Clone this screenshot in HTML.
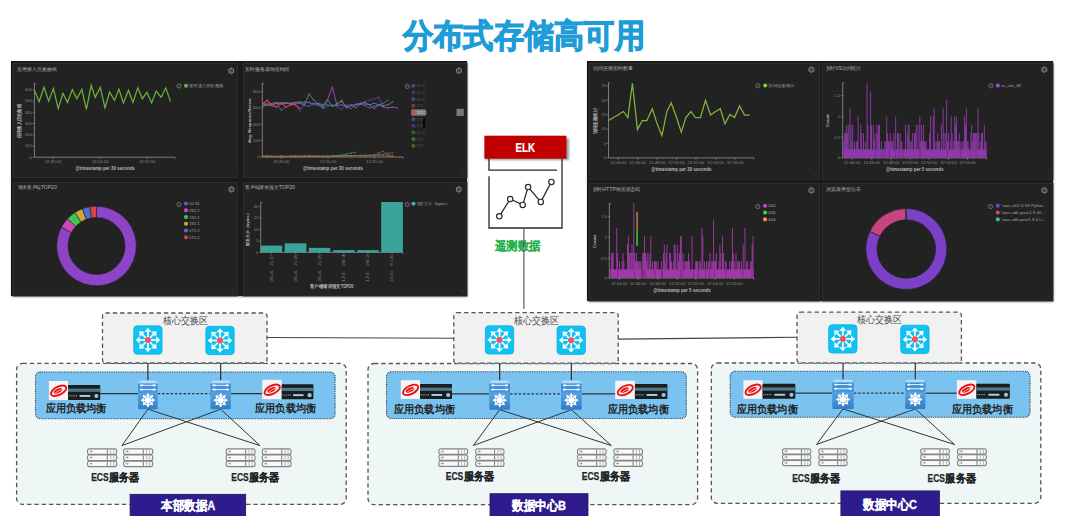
<!DOCTYPE html>
<html><head><meta charset="utf-8"><style>
html,body{margin:0;padding:0;background:#fff;}
body{width:1080px;height:516px;overflow:hidden;position:relative;font-family:"Liberation Sans",sans-serif;}
svg{position:absolute;left:0;top:0;font-family:"Liberation Sans",sans-serif;}
</style></head><body>
<svg width="1080" height="516" viewBox="0 0 1080 516">
<defs><linearGradient id="swg" x1="0" y1="0" x2="0" y2="1"><stop offset="0" stop-color="#3d8dd8"/><stop offset="0.3" stop-color="#4696dd"/><stop offset="0.33" stop-color="#5aa4e4"/><stop offset="1" stop-color="#2f7fc8"/></linearGradient><filter id="blur" x="-5%" y="-5%" width="110%" height="110%"><feGaussianBlur stdDeviation="1"/></filter></defs>
<text x="523.80" y="47.00" font-size="32.6" fill="#1e9cd7" font-weight="bold" text-anchor="middle"  textLength="242" lengthAdjust="spacingAndGlyphs" stroke="#1e9cd7" stroke-width="1.1">分布式存储高可用</text>
<rect x="11.5" y="62" width="456" height="235" fill="#999" filter="url(#blur)"/>
<rect x="11" y="61" width="456" height="235" fill="#1b1b1b"/>
<rect x="13.5" y="63.5" width="224" height="114" fill="#222222" stroke="#2c2c2c" stroke-width="1"/>
<path d="M231.5,174.5 L234.5,171.5" stroke="#444" stroke-width="0.6"/>
<rect x="243.5" y="63.5" width="223.5" height="114" fill="#222222" stroke="#2c2c2c" stroke-width="1"/>
<path d="M461.0,174.5 L464.0,171.5" stroke="#444" stroke-width="0.6"/>
<rect x="13.5" y="182.5" width="224" height="113.5" fill="#222222" stroke="#2c2c2c" stroke-width="1"/>
<path d="M231.5,293.0 L234.5,290.0" stroke="#444" stroke-width="0.6"/>
<rect x="243.5" y="182.5" width="223.5" height="113.5" fill="#222222" stroke="#2c2c2c" stroke-width="1"/>
<path d="M461.0,293.0 L464.0,290.0" stroke="#444" stroke-width="0.6"/>
<text x="17.00" y="71.34" font-size="5.4" fill="#b4b4b4" font-weight="normal" text-anchor="start"  textLength="39.7" lengthAdjust="spacingAndGlyphs">应用接入历史曲线</text>
<text x="245.00" y="71.14" font-size="5.4" fill="#b4b4b4" font-weight="normal" text-anchor="start"  textLength="44.4" lengthAdjust="spacingAndGlyphs">实时服务器响应时间</text>
<text x="17.60" y="189.04" font-size="5.4" fill="#b4b4b4" font-weight="normal" text-anchor="start"  textLength="39.1" lengthAdjust="spacingAndGlyphs">请求客户端TOP20</text>
<text x="245.10" y="189.04" font-size="5.4" fill="#b4b4b4" font-weight="normal" text-anchor="start"  textLength="49.9" lengthAdjust="spacingAndGlyphs">客户端请求报文TOP20</text>
<polygon points="233.54,72.25 231.20,73.60 228.86,72.25 228.86,69.55 231.20,68.20 233.54,69.55" fill="none" stroke="#7c7c7c" stroke-width="1.1"/>
<circle cx="231.2" cy="70.9" r="1.1" fill="none" stroke="#7c7c7c" stroke-width="0.6"/>
<polygon points="461.24,72.05 458.90,73.40 456.56,72.05 456.56,69.35 458.90,68.00 461.24,69.35" fill="none" stroke="#7c7c7c" stroke-width="1.1"/>
<circle cx="458.9" cy="70.7" r="1.1" fill="none" stroke="#7c7c7c" stroke-width="0.6"/>
<polygon points="233.74,190.75 231.40,192.10 229.06,190.75 229.06,188.05 231.40,186.70 233.74,188.05" fill="none" stroke="#7c7c7c" stroke-width="1.1"/>
<circle cx="231.4" cy="189.4" r="1.1" fill="none" stroke="#7c7c7c" stroke-width="0.6"/>
<polygon points="461.14,190.75 458.80,192.10 456.46,190.75 456.46,188.05 458.80,186.70 461.14,188.05" fill="none" stroke="#7c7c7c" stroke-width="1.1"/>
<circle cx="458.8" cy="189.4" r="1.1" fill="none" stroke="#7c7c7c" stroke-width="0.6"/>
<path d="M35.9,83.3 L34.4,83.3 L34.4,157.2 L175,157.2 L175,158.7" fill="none" stroke="#a0a0a0" stroke-width="0.7"/>
<line x1="32.6" y1="157.20" x2="34.4" y2="157.20" stroke="#a0a0a0" stroke-width="0.6"/>
<text x="31.80" y="158.60" font-size="4" fill="#8c8c8c" font-weight="normal" text-anchor="end" >0</text>
<line x1="32.6" y1="145.97" x2="34.4" y2="145.97" stroke="#a0a0a0" stroke-width="0.6"/>
<text x="31.80" y="147.37" font-size="4" fill="#8c8c8c" font-weight="normal" text-anchor="end" >100</text>
<line x1="32.6" y1="134.74" x2="34.4" y2="134.74" stroke="#a0a0a0" stroke-width="0.6"/>
<text x="31.80" y="136.14" font-size="4" fill="#8c8c8c" font-weight="normal" text-anchor="end" >200</text>
<line x1="32.6" y1="123.51" x2="34.4" y2="123.51" stroke="#a0a0a0" stroke-width="0.6"/>
<text x="31.80" y="124.91" font-size="4" fill="#8c8c8c" font-weight="normal" text-anchor="end" >300</text>
<line x1="32.6" y1="112.28" x2="34.4" y2="112.28" stroke="#a0a0a0" stroke-width="0.6"/>
<text x="31.80" y="113.68" font-size="4" fill="#8c8c8c" font-weight="normal" text-anchor="end" >400</text>
<line x1="32.6" y1="101.05" x2="34.4" y2="101.05" stroke="#a0a0a0" stroke-width="0.6"/>
<text x="31.80" y="102.45" font-size="4" fill="#8c8c8c" font-weight="normal" text-anchor="end" >500</text>
<line x1="32.6" y1="89.82" x2="34.4" y2="89.82" stroke="#a0a0a0" stroke-width="0.6"/>
<text x="31.80" y="91.22" font-size="4" fill="#8c8c8c" font-weight="normal" text-anchor="end" >600</text>
<line x1="53.00" y1="157.2" x2="53.00" y2="159.0" stroke="#a0a0a0" stroke-width="0.6"/>
<text x="53.00" y="163.00" font-size="4" fill="#8c8c8c" font-weight="normal" text-anchor="middle"  textLength="16.5" lengthAdjust="spacingAndGlyphs">12:45:00</text>
<line x1="100.20" y1="157.2" x2="100.20" y2="159.0" stroke="#a0a0a0" stroke-width="0.6"/>
<text x="100.20" y="163.00" font-size="4" fill="#8c8c8c" font-weight="normal" text-anchor="middle"  textLength="16.5" lengthAdjust="spacingAndGlyphs">12:50:00</text>
<line x1="147.20" y1="157.2" x2="147.20" y2="159.0" stroke="#a0a0a0" stroke-width="0.6"/>
<text x="147.20" y="163.00" font-size="4" fill="#8c8c8c" font-weight="normal" text-anchor="middle"  textLength="16.5" lengthAdjust="spacingAndGlyphs">12:55:00</text>
<text x="75.60" y="170.06" font-size="4.6" fill="#b8b8b8" font-weight="bold" text-anchor="start"  textLength="59.2" lengthAdjust="spacingAndGlyphs">@timestamp per 30 seconds</text>
<text x="19.30" y="121.00" font-size="4.6" fill="#b8b8b8" font-weight="bold" text-anchor="middle" transform="rotate(-90 19.30 121.00)" dy="1.66" textLength="34" lengthAdjust="spacingAndGlyphs">应用接入历史曲线</text>
<polyline points="34.51,90.30 39.04,101.64 44.08,87.28 48.61,101.13 53.40,88.54 58.19,108.44 62.97,93.32 67.51,102.39 72.29,89.55 76.83,98.61 81.86,89.55 86.40,109.45 91.18,85.26 95.21,97.36 100.25,87.28 105.04,107.93 109.57,92.07 114.61,100.38 118.89,89.04 123.43,102.90 128.46,90.30 133.00,102.39 137.78,87.78 142.32,98.61 146.85,92.32 151.64,102.90 156.17,91.06 161.21,97.36 165.74,87.78 170.53,101.64" fill="none" stroke="#68b13a" stroke-width="1.25" opacity="1"/>
<circle cx="178.9" cy="86" r="2.1" fill="none" stroke="#8a8a8a" stroke-width="0.7"/>
<line x1="178.9" y1="85" x2="178.9" y2="86.6" stroke="#8a8a8a" stroke-width="0.5"/>
<circle cx="186" cy="85.8" r="2.05" fill="#68b13a"/>
<text x="189.00" y="87.38" font-size="4.4" fill="#a5a5a5" font-weight="normal" text-anchor="start"  textLength="34" lengthAdjust="spacingAndGlyphs">应用接入历史曲线</text>
<path d="M263.8,83.4 L262.3,83.4 L262.3,157 L402.9,157 L402.9,158.5" fill="none" stroke="#a0a0a0" stroke-width="0.7"/>
<line x1="260.5" y1="157.00" x2="262.3" y2="157.00" stroke="#a0a0a0" stroke-width="0.6"/>
<text x="259.70" y="158.40" font-size="4" fill="#8c8c8c" font-weight="normal" text-anchor="end" >0</text>
<line x1="260.5" y1="140.40" x2="262.3" y2="140.40" stroke="#a0a0a0" stroke-width="0.6"/>
<text x="259.70" y="141.80" font-size="4" fill="#8c8c8c" font-weight="normal" text-anchor="end" >200</text>
<line x1="260.5" y1="124.20" x2="262.3" y2="124.20" stroke="#a0a0a0" stroke-width="0.6"/>
<text x="259.70" y="125.60" font-size="4" fill="#8c8c8c" font-weight="normal" text-anchor="end" >400</text>
<line x1="260.5" y1="107.90" x2="262.3" y2="107.90" stroke="#a0a0a0" stroke-width="0.6"/>
<text x="259.70" y="109.30" font-size="4" fill="#8c8c8c" font-weight="normal" text-anchor="end" >600</text>
<line x1="260.5" y1="91.60" x2="262.3" y2="91.60" stroke="#a0a0a0" stroke-width="0.6"/>
<text x="259.70" y="93.00" font-size="4" fill="#8c8c8c" font-weight="normal" text-anchor="end" >800</text>
<line x1="281.40" y1="157" x2="281.40" y2="158.8" stroke="#a0a0a0" stroke-width="0.6"/>
<text x="281.40" y="163.00" font-size="4" fill="#8c8c8c" font-weight="normal" text-anchor="middle"  textLength="16.5" lengthAdjust="spacingAndGlyphs">12:45:00</text>
<line x1="328.10" y1="157" x2="328.10" y2="158.8" stroke="#a0a0a0" stroke-width="0.6"/>
<text x="328.10" y="163.00" font-size="4" fill="#8c8c8c" font-weight="normal" text-anchor="middle"  textLength="16.5" lengthAdjust="spacingAndGlyphs">12:50:00</text>
<line x1="374.60" y1="157" x2="374.60" y2="158.8" stroke="#a0a0a0" stroke-width="0.6"/>
<text x="374.60" y="163.00" font-size="4" fill="#8c8c8c" font-weight="normal" text-anchor="middle"  textLength="16.5" lengthAdjust="spacingAndGlyphs">12:55:00</text>
<text x="303.00" y="170.26" font-size="4.6" fill="#b8b8b8" font-weight="bold" text-anchor="start"  textLength="60" lengthAdjust="spacingAndGlyphs">@timestamp per 30 seconds</text>
<text x="249.30" y="120.50" font-size="4.4" fill="#b8b8b8" font-weight="bold" text-anchor="middle" transform="rotate(-90 249.30 120.50)" dy="1.58" textLength="45" lengthAdjust="spacingAndGlyphs">Avg. Response/Server</text>
<polyline points="262.65,105.57 267.30,103.25 271.95,104.02 276.60,103.25 281.25,104.02 285.89,103.25 290.54,103.25 295.19,104.02 299.84,110.99 304.49,103.25 309.14,102.47 313.79,104.79 318.44,105.57 323.09,108.67 327.74,106.34 332.38,104.79 337.03,107.12 341.68,109.44 346.33,104.79 350.98,105.57 355.63,104.02 360.28,103.25 364.93,101.70 369.58,100.15 374.23,98.60 378.87,97.05 383.52,107.12" fill="none" stroke="#5a3fb8" stroke-width="0.8" opacity="1"/>
<circle cx="262.65" cy="105.57" r="0.6" fill="#5a3fb8" opacity="1"/>
<circle cx="267.30" cy="103.25" r="0.6" fill="#5a3fb8" opacity="1"/>
<circle cx="271.95" cy="104.02" r="0.6" fill="#5a3fb8" opacity="1"/>
<circle cx="276.60" cy="103.25" r="0.6" fill="#5a3fb8" opacity="1"/>
<circle cx="281.25" cy="104.02" r="0.6" fill="#5a3fb8" opacity="1"/>
<circle cx="285.89" cy="103.25" r="0.6" fill="#5a3fb8" opacity="1"/>
<circle cx="290.54" cy="103.25" r="0.6" fill="#5a3fb8" opacity="1"/>
<circle cx="295.19" cy="104.02" r="0.6" fill="#5a3fb8" opacity="1"/>
<circle cx="299.84" cy="110.99" r="0.6" fill="#5a3fb8" opacity="1"/>
<circle cx="304.49" cy="103.25" r="0.6" fill="#5a3fb8" opacity="1"/>
<circle cx="309.14" cy="102.47" r="0.6" fill="#5a3fb8" opacity="1"/>
<circle cx="313.79" cy="104.79" r="0.6" fill="#5a3fb8" opacity="1"/>
<circle cx="318.44" cy="105.57" r="0.6" fill="#5a3fb8" opacity="1"/>
<circle cx="323.09" cy="108.67" r="0.6" fill="#5a3fb8" opacity="1"/>
<circle cx="327.74" cy="106.34" r="0.6" fill="#5a3fb8" opacity="1"/>
<circle cx="332.38" cy="104.79" r="0.6" fill="#5a3fb8" opacity="1"/>
<circle cx="337.03" cy="107.12" r="0.6" fill="#5a3fb8" opacity="1"/>
<circle cx="341.68" cy="109.44" r="0.6" fill="#5a3fb8" opacity="1"/>
<circle cx="346.33" cy="104.79" r="0.6" fill="#5a3fb8" opacity="1"/>
<circle cx="350.98" cy="105.57" r="0.6" fill="#5a3fb8" opacity="1"/>
<circle cx="355.63" cy="104.02" r="0.6" fill="#5a3fb8" opacity="1"/>
<circle cx="360.28" cy="103.25" r="0.6" fill="#5a3fb8" opacity="1"/>
<circle cx="364.93" cy="101.70" r="0.6" fill="#5a3fb8" opacity="1"/>
<circle cx="369.58" cy="100.15" r="0.6" fill="#5a3fb8" opacity="1"/>
<circle cx="374.23" cy="98.60" r="0.6" fill="#5a3fb8" opacity="1"/>
<circle cx="378.87" cy="97.05" r="0.6" fill="#5a3fb8" opacity="1"/>
<circle cx="383.52" cy="107.12" r="0.6" fill="#5a3fb8" opacity="1"/>
<polyline points="262.65,107.89 267.30,100.15 271.95,105.57 276.60,102.47 281.25,110.22 285.89,107.12 290.54,104.79 295.19,104.02 299.84,103.25 304.49,105.57 309.14,106.34 313.79,103.25 318.44,104.79 323.09,105.57 327.74,104.79 332.38,106.34 337.03,103.25 341.68,101.70 346.33,106.34 350.98,108.67 355.63,104.79 360.28,104.02 364.93,105.57 369.58,107.89 374.23,106.34 378.87,104.79 383.52,103.25 388.17,100.15" fill="none" stroke="#4f6fc0" stroke-width="0.8" opacity="1"/>
<circle cx="262.65" cy="107.89" r="0.6" fill="#4f6fc0" opacity="1"/>
<circle cx="267.30" cy="100.15" r="0.6" fill="#4f6fc0" opacity="1"/>
<circle cx="271.95" cy="105.57" r="0.6" fill="#4f6fc0" opacity="1"/>
<circle cx="276.60" cy="102.47" r="0.6" fill="#4f6fc0" opacity="1"/>
<circle cx="281.25" cy="110.22" r="0.6" fill="#4f6fc0" opacity="1"/>
<circle cx="285.89" cy="107.12" r="0.6" fill="#4f6fc0" opacity="1"/>
<circle cx="290.54" cy="104.79" r="0.6" fill="#4f6fc0" opacity="1"/>
<circle cx="295.19" cy="104.02" r="0.6" fill="#4f6fc0" opacity="1"/>
<circle cx="299.84" cy="103.25" r="0.6" fill="#4f6fc0" opacity="1"/>
<circle cx="304.49" cy="105.57" r="0.6" fill="#4f6fc0" opacity="1"/>
<circle cx="309.14" cy="106.34" r="0.6" fill="#4f6fc0" opacity="1"/>
<circle cx="313.79" cy="103.25" r="0.6" fill="#4f6fc0" opacity="1"/>
<circle cx="318.44" cy="104.79" r="0.6" fill="#4f6fc0" opacity="1"/>
<circle cx="323.09" cy="105.57" r="0.6" fill="#4f6fc0" opacity="1"/>
<circle cx="327.74" cy="104.79" r="0.6" fill="#4f6fc0" opacity="1"/>
<circle cx="332.38" cy="106.34" r="0.6" fill="#4f6fc0" opacity="1"/>
<circle cx="337.03" cy="103.25" r="0.6" fill="#4f6fc0" opacity="1"/>
<circle cx="341.68" cy="101.70" r="0.6" fill="#4f6fc0" opacity="1"/>
<circle cx="346.33" cy="106.34" r="0.6" fill="#4f6fc0" opacity="1"/>
<circle cx="350.98" cy="108.67" r="0.6" fill="#4f6fc0" opacity="1"/>
<circle cx="355.63" cy="104.79" r="0.6" fill="#4f6fc0" opacity="1"/>
<circle cx="360.28" cy="104.02" r="0.6" fill="#4f6fc0" opacity="1"/>
<circle cx="364.93" cy="105.57" r="0.6" fill="#4f6fc0" opacity="1"/>
<circle cx="369.58" cy="107.89" r="0.6" fill="#4f6fc0" opacity="1"/>
<circle cx="374.23" cy="106.34" r="0.6" fill="#4f6fc0" opacity="1"/>
<circle cx="378.87" cy="104.79" r="0.6" fill="#4f6fc0" opacity="1"/>
<circle cx="383.52" cy="103.25" r="0.6" fill="#4f6fc0" opacity="1"/>
<circle cx="388.17" cy="100.15" r="0.6" fill="#4f6fc0" opacity="1"/>
<polyline points="262.65,105.57 267.30,104.79 271.95,105.57 276.60,103.25 281.25,104.02 285.89,103.25 290.54,104.02 295.19,102.47 299.84,101.70 304.49,104.79 309.14,93.95 313.79,100.15 318.44,104.02 323.09,107.89 327.74,100.15 332.38,106.34 337.03,104.79 341.68,100.15 346.33,107.89 350.98,104.79 355.63,107.89 360.28,104.02 364.93,102.47 369.58,104.79 374.23,103.25 378.87,104.79 383.52,105.57 388.17,104.79 392.82,101.70" fill="none" stroke="#3a9e5c" stroke-width="0.9" opacity="1"/>
<circle cx="262.65" cy="105.57" r="0.6" fill="#3a9e5c" opacity="1"/>
<circle cx="267.30" cy="104.79" r="0.6" fill="#3a9e5c" opacity="1"/>
<circle cx="271.95" cy="105.57" r="0.6" fill="#3a9e5c" opacity="1"/>
<circle cx="276.60" cy="103.25" r="0.6" fill="#3a9e5c" opacity="1"/>
<circle cx="281.25" cy="104.02" r="0.6" fill="#3a9e5c" opacity="1"/>
<circle cx="285.89" cy="103.25" r="0.6" fill="#3a9e5c" opacity="1"/>
<circle cx="290.54" cy="104.02" r="0.6" fill="#3a9e5c" opacity="1"/>
<circle cx="295.19" cy="102.47" r="0.6" fill="#3a9e5c" opacity="1"/>
<circle cx="299.84" cy="101.70" r="0.6" fill="#3a9e5c" opacity="1"/>
<circle cx="304.49" cy="104.79" r="0.6" fill="#3a9e5c" opacity="1"/>
<circle cx="309.14" cy="93.95" r="0.6" fill="#3a9e5c" opacity="1"/>
<circle cx="313.79" cy="100.15" r="0.6" fill="#3a9e5c" opacity="1"/>
<circle cx="318.44" cy="104.02" r="0.6" fill="#3a9e5c" opacity="1"/>
<circle cx="323.09" cy="107.89" r="0.6" fill="#3a9e5c" opacity="1"/>
<circle cx="327.74" cy="100.15" r="0.6" fill="#3a9e5c" opacity="1"/>
<circle cx="332.38" cy="106.34" r="0.6" fill="#3a9e5c" opacity="1"/>
<circle cx="337.03" cy="104.79" r="0.6" fill="#3a9e5c" opacity="1"/>
<circle cx="341.68" cy="100.15" r="0.6" fill="#3a9e5c" opacity="1"/>
<circle cx="346.33" cy="107.89" r="0.6" fill="#3a9e5c" opacity="1"/>
<circle cx="350.98" cy="104.79" r="0.6" fill="#3a9e5c" opacity="1"/>
<circle cx="355.63" cy="107.89" r="0.6" fill="#3a9e5c" opacity="1"/>
<circle cx="360.28" cy="104.02" r="0.6" fill="#3a9e5c" opacity="1"/>
<circle cx="364.93" cy="102.47" r="0.6" fill="#3a9e5c" opacity="1"/>
<circle cx="369.58" cy="104.79" r="0.6" fill="#3a9e5c" opacity="1"/>
<circle cx="374.23" cy="103.25" r="0.6" fill="#3a9e5c" opacity="1"/>
<circle cx="378.87" cy="104.79" r="0.6" fill="#3a9e5c" opacity="1"/>
<circle cx="383.52" cy="105.57" r="0.6" fill="#3a9e5c" opacity="1"/>
<circle cx="388.17" cy="104.79" r="0.6" fill="#3a9e5c" opacity="1"/>
<circle cx="392.82" cy="101.70" r="0.6" fill="#3a9e5c" opacity="1"/>
<polyline points="262.65,103.25 267.30,105.57 271.95,103.25 276.60,102.47 281.25,103.25 285.89,102.47 290.54,103.25 295.19,102.47 299.84,103.25 304.49,101.70 309.14,102.47 313.79,104.02 318.44,103.25 323.09,104.79 327.74,99.37 332.38,86.97 337.03,105.57 341.68,104.79 346.33,106.34 350.98,105.57 355.63,104.79 360.28,103.25 364.93,104.02 369.58,104.79 374.23,108.67 378.87,104.79 383.52,107.12 388.17,107.89 392.82,107.12 397.47,107.89" fill="none" stroke="#a04fbf" stroke-width="0.9" opacity="1"/>
<circle cx="262.65" cy="103.25" r="0.6" fill="#a04fbf" opacity="1"/>
<circle cx="267.30" cy="105.57" r="0.6" fill="#a04fbf" opacity="1"/>
<circle cx="271.95" cy="103.25" r="0.6" fill="#a04fbf" opacity="1"/>
<circle cx="276.60" cy="102.47" r="0.6" fill="#a04fbf" opacity="1"/>
<circle cx="281.25" cy="103.25" r="0.6" fill="#a04fbf" opacity="1"/>
<circle cx="285.89" cy="102.47" r="0.6" fill="#a04fbf" opacity="1"/>
<circle cx="290.54" cy="103.25" r="0.6" fill="#a04fbf" opacity="1"/>
<circle cx="295.19" cy="102.47" r="0.6" fill="#a04fbf" opacity="1"/>
<circle cx="299.84" cy="103.25" r="0.6" fill="#a04fbf" opacity="1"/>
<circle cx="304.49" cy="101.70" r="0.6" fill="#a04fbf" opacity="1"/>
<circle cx="309.14" cy="102.47" r="0.6" fill="#a04fbf" opacity="1"/>
<circle cx="313.79" cy="104.02" r="0.6" fill="#a04fbf" opacity="1"/>
<circle cx="318.44" cy="103.25" r="0.6" fill="#a04fbf" opacity="1"/>
<circle cx="323.09" cy="104.79" r="0.6" fill="#a04fbf" opacity="1"/>
<circle cx="327.74" cy="99.37" r="0.6" fill="#a04fbf" opacity="1"/>
<circle cx="332.38" cy="86.97" r="0.6" fill="#a04fbf" opacity="1"/>
<circle cx="337.03" cy="105.57" r="0.6" fill="#a04fbf" opacity="1"/>
<circle cx="341.68" cy="104.79" r="0.6" fill="#a04fbf" opacity="1"/>
<circle cx="346.33" cy="106.34" r="0.6" fill="#a04fbf" opacity="1"/>
<circle cx="350.98" cy="105.57" r="0.6" fill="#a04fbf" opacity="1"/>
<circle cx="355.63" cy="104.79" r="0.6" fill="#a04fbf" opacity="1"/>
<circle cx="360.28" cy="103.25" r="0.6" fill="#a04fbf" opacity="1"/>
<circle cx="364.93" cy="104.02" r="0.6" fill="#a04fbf" opacity="1"/>
<circle cx="369.58" cy="104.79" r="0.6" fill="#a04fbf" opacity="1"/>
<circle cx="374.23" cy="108.67" r="0.6" fill="#a04fbf" opacity="1"/>
<circle cx="378.87" cy="104.79" r="0.6" fill="#a04fbf" opacity="1"/>
<circle cx="383.52" cy="107.12" r="0.6" fill="#a04fbf" opacity="1"/>
<circle cx="388.17" cy="107.89" r="0.6" fill="#a04fbf" opacity="1"/>
<circle cx="392.82" cy="107.12" r="0.6" fill="#a04fbf" opacity="1"/>
<circle cx="397.47" cy="107.89" r="0.6" fill="#a04fbf" opacity="1"/>
<polyline points="262.65,104.02 267.30,100.15 271.95,105.57 276.60,107.12 281.25,102.47 285.89,107.12 290.54,104.79 295.19,104.79 299.84,108.67" fill="none" stroke="#e8403f" stroke-width="1.1" opacity="1"/>
<circle cx="262.65" cy="104.02" r="0.6" fill="#e8403f" opacity="1"/>
<circle cx="267.30" cy="100.15" r="0.6" fill="#e8403f" opacity="1"/>
<circle cx="271.95" cy="105.57" r="0.6" fill="#e8403f" opacity="1"/>
<circle cx="276.60" cy="107.12" r="0.6" fill="#e8403f" opacity="1"/>
<circle cx="281.25" cy="102.47" r="0.6" fill="#e8403f" opacity="1"/>
<circle cx="285.89" cy="107.12" r="0.6" fill="#e8403f" opacity="1"/>
<circle cx="290.54" cy="104.79" r="0.6" fill="#e8403f" opacity="1"/>
<circle cx="295.19" cy="104.79" r="0.6" fill="#e8403f" opacity="1"/>
<circle cx="299.84" cy="108.67" r="0.6" fill="#e8403f" opacity="1"/>
<polyline points="262.65,155.93 267.30,155.62 271.95,155.93 276.60,156.24 281.25,155.93 285.89,156.24 290.54,155.93 295.19,155.62 299.84,155.93 304.49,155.78 309.14,155.47 313.79,155.93 318.44,155.62 323.09,155.93 327.74,156.09 332.38,156.24 337.03,155.93 341.68,155.78 346.33,155.62 350.98,155.47 355.63,155.31 360.28,155.62 364.93,155.78 369.58,155.47 374.23,155.62 378.87,155.31 383.52,155.47 388.17,155.16 392.82,155.16" fill="none" stroke="#d2691e" stroke-width="0.7" opacity="0.8"/>
<circle cx="262.65" cy="155.93" r="0.6" fill="#d2691e" opacity="0.8"/>
<circle cx="267.30" cy="155.62" r="0.6" fill="#d2691e" opacity="0.8"/>
<circle cx="271.95" cy="155.93" r="0.6" fill="#d2691e" opacity="0.8"/>
<circle cx="276.60" cy="156.24" r="0.6" fill="#d2691e" opacity="0.8"/>
<circle cx="281.25" cy="155.93" r="0.6" fill="#d2691e" opacity="0.8"/>
<circle cx="285.89" cy="156.24" r="0.6" fill="#d2691e" opacity="0.8"/>
<circle cx="290.54" cy="155.93" r="0.6" fill="#d2691e" opacity="0.8"/>
<circle cx="295.19" cy="155.62" r="0.6" fill="#d2691e" opacity="0.8"/>
<circle cx="299.84" cy="155.93" r="0.6" fill="#d2691e" opacity="0.8"/>
<circle cx="304.49" cy="155.78" r="0.6" fill="#d2691e" opacity="0.8"/>
<circle cx="309.14" cy="155.47" r="0.6" fill="#d2691e" opacity="0.8"/>
<circle cx="313.79" cy="155.93" r="0.6" fill="#d2691e" opacity="0.8"/>
<circle cx="318.44" cy="155.62" r="0.6" fill="#d2691e" opacity="0.8"/>
<circle cx="323.09" cy="155.93" r="0.6" fill="#d2691e" opacity="0.8"/>
<circle cx="327.74" cy="156.09" r="0.6" fill="#d2691e" opacity="0.8"/>
<circle cx="332.38" cy="156.24" r="0.6" fill="#d2691e" opacity="0.8"/>
<circle cx="337.03" cy="155.93" r="0.6" fill="#d2691e" opacity="0.8"/>
<circle cx="341.68" cy="155.78" r="0.6" fill="#d2691e" opacity="0.8"/>
<circle cx="346.33" cy="155.62" r="0.6" fill="#d2691e" opacity="0.8"/>
<circle cx="350.98" cy="155.47" r="0.6" fill="#d2691e" opacity="0.8"/>
<circle cx="355.63" cy="155.31" r="0.6" fill="#d2691e" opacity="0.8"/>
<circle cx="360.28" cy="155.62" r="0.6" fill="#d2691e" opacity="0.8"/>
<circle cx="364.93" cy="155.78" r="0.6" fill="#d2691e" opacity="0.8"/>
<circle cx="369.58" cy="155.47" r="0.6" fill="#d2691e" opacity="0.8"/>
<circle cx="374.23" cy="155.62" r="0.6" fill="#d2691e" opacity="0.8"/>
<circle cx="378.87" cy="155.31" r="0.6" fill="#d2691e" opacity="0.8"/>
<circle cx="383.52" cy="155.47" r="0.6" fill="#d2691e" opacity="0.8"/>
<circle cx="388.17" cy="155.16" r="0.6" fill="#d2691e" opacity="0.8"/>
<circle cx="392.82" cy="155.16" r="0.6" fill="#d2691e" opacity="0.8"/>
<polyline points="262.65,156.40 267.30,156.24 271.95,156.55 276.60,156.40 281.25,156.24 285.89,156.40 290.54,156.24 295.19,156.40 299.84,156.55 304.49,156.40 309.14,156.24 313.79,156.40 318.44,156.55 323.09,156.40 327.74,156.24 332.38,155.93 337.03,155.62 341.68,155.00 346.33,154.07 350.98,153.14 355.63,152.21" fill="none" stroke="#3ea34f" stroke-width="0.7" opacity="0.9"/>
<circle cx="262.65" cy="156.40" r="0.6" fill="#3ea34f" opacity="0.9"/>
<circle cx="267.30" cy="156.24" r="0.6" fill="#3ea34f" opacity="0.9"/>
<circle cx="271.95" cy="156.55" r="0.6" fill="#3ea34f" opacity="0.9"/>
<circle cx="276.60" cy="156.40" r="0.6" fill="#3ea34f" opacity="0.9"/>
<circle cx="281.25" cy="156.24" r="0.6" fill="#3ea34f" opacity="0.9"/>
<circle cx="285.89" cy="156.40" r="0.6" fill="#3ea34f" opacity="0.9"/>
<circle cx="290.54" cy="156.24" r="0.6" fill="#3ea34f" opacity="0.9"/>
<circle cx="295.19" cy="156.40" r="0.6" fill="#3ea34f" opacity="0.9"/>
<circle cx="299.84" cy="156.55" r="0.6" fill="#3ea34f" opacity="0.9"/>
<circle cx="304.49" cy="156.40" r="0.6" fill="#3ea34f" opacity="0.9"/>
<circle cx="309.14" cy="156.24" r="0.6" fill="#3ea34f" opacity="0.9"/>
<circle cx="313.79" cy="156.40" r="0.6" fill="#3ea34f" opacity="0.9"/>
<circle cx="318.44" cy="156.55" r="0.6" fill="#3ea34f" opacity="0.9"/>
<circle cx="323.09" cy="156.40" r="0.6" fill="#3ea34f" opacity="0.9"/>
<circle cx="327.74" cy="156.24" r="0.6" fill="#3ea34f" opacity="0.9"/>
<circle cx="332.38" cy="155.93" r="0.6" fill="#3ea34f" opacity="0.9"/>
<circle cx="337.03" cy="155.62" r="0.6" fill="#3ea34f" opacity="0.9"/>
<circle cx="341.68" cy="155.00" r="0.6" fill="#3ea34f" opacity="0.9"/>
<circle cx="346.33" cy="154.07" r="0.6" fill="#3ea34f" opacity="0.9"/>
<circle cx="350.98" cy="153.14" r="0.6" fill="#3ea34f" opacity="0.9"/>
<circle cx="355.63" cy="152.21" r="0.6" fill="#3ea34f" opacity="0.9"/>
<polyline points="262.65,156.71 267.30,156.71 271.95,156.86 276.60,156.71 281.25,156.71 285.89,156.55 290.54,156.71 295.19,156.71 299.84,156.55 304.49,156.71 309.14,156.55 313.79,156.40 318.44,156.40 323.09,156.24 327.74,156.24 332.38,156.09 337.03,155.93 341.68,155.78 346.33,155.62 350.98,155.62 355.63,155.47 360.28,155.31 364.93,155.16 369.58,155.00 374.23,154.85 378.87,154.69 383.52,154.07 388.17,153.14 392.82,152.83" fill="none" stroke="#2a8fb0" stroke-width="0.7" opacity="0.8"/>
<circle cx="262.65" cy="156.71" r="0.6" fill="#2a8fb0" opacity="0.8"/>
<circle cx="267.30" cy="156.71" r="0.6" fill="#2a8fb0" opacity="0.8"/>
<circle cx="271.95" cy="156.86" r="0.6" fill="#2a8fb0" opacity="0.8"/>
<circle cx="276.60" cy="156.71" r="0.6" fill="#2a8fb0" opacity="0.8"/>
<circle cx="281.25" cy="156.71" r="0.6" fill="#2a8fb0" opacity="0.8"/>
<circle cx="285.89" cy="156.55" r="0.6" fill="#2a8fb0" opacity="0.8"/>
<circle cx="290.54" cy="156.71" r="0.6" fill="#2a8fb0" opacity="0.8"/>
<circle cx="295.19" cy="156.71" r="0.6" fill="#2a8fb0" opacity="0.8"/>
<circle cx="299.84" cy="156.55" r="0.6" fill="#2a8fb0" opacity="0.8"/>
<circle cx="304.49" cy="156.71" r="0.6" fill="#2a8fb0" opacity="0.8"/>
<circle cx="309.14" cy="156.55" r="0.6" fill="#2a8fb0" opacity="0.8"/>
<circle cx="313.79" cy="156.40" r="0.6" fill="#2a8fb0" opacity="0.8"/>
<circle cx="318.44" cy="156.40" r="0.6" fill="#2a8fb0" opacity="0.8"/>
<circle cx="323.09" cy="156.24" r="0.6" fill="#2a8fb0" opacity="0.8"/>
<circle cx="327.74" cy="156.24" r="0.6" fill="#2a8fb0" opacity="0.8"/>
<circle cx="332.38" cy="156.09" r="0.6" fill="#2a8fb0" opacity="0.8"/>
<circle cx="337.03" cy="155.93" r="0.6" fill="#2a8fb0" opacity="0.8"/>
<circle cx="341.68" cy="155.78" r="0.6" fill="#2a8fb0" opacity="0.8"/>
<circle cx="346.33" cy="155.62" r="0.6" fill="#2a8fb0" opacity="0.8"/>
<circle cx="350.98" cy="155.62" r="0.6" fill="#2a8fb0" opacity="0.8"/>
<circle cx="355.63" cy="155.47" r="0.6" fill="#2a8fb0" opacity="0.8"/>
<circle cx="360.28" cy="155.31" r="0.6" fill="#2a8fb0" opacity="0.8"/>
<circle cx="364.93" cy="155.16" r="0.6" fill="#2a8fb0" opacity="0.8"/>
<circle cx="369.58" cy="155.00" r="0.6" fill="#2a8fb0" opacity="0.8"/>
<circle cx="374.23" cy="154.85" r="0.6" fill="#2a8fb0" opacity="0.8"/>
<circle cx="378.87" cy="154.69" r="0.6" fill="#2a8fb0" opacity="0.8"/>
<circle cx="383.52" cy="154.07" r="0.6" fill="#2a8fb0" opacity="0.8"/>
<circle cx="388.17" cy="153.14" r="0.6" fill="#2a8fb0" opacity="0.8"/>
<circle cx="392.82" cy="152.83" r="0.6" fill="#2a8fb0" opacity="0.8"/>
<polyline points="262.65,156.86 267.30,156.86 271.95,156.71 276.60,156.86 281.25,157.02 285.89,156.86 290.54,156.71 295.19,156.86 299.84,156.71 304.49,156.55 309.14,156.86 313.79,156.71 318.44,156.55 323.09,156.71 327.74,156.55 332.38,156.40 337.03,156.55 341.68,156.24 346.33,155.93 350.98,156.09 355.63,155.62 360.28,156.24 364.93,155.78 369.58,155.93 374.23,155.16 378.87,152.83 383.52,151.28 388.17,155.93 392.82,156.40" fill="none" stroke="#c8622a" stroke-width="0.7" opacity="0.85"/>
<circle cx="262.65" cy="156.86" r="0.6" fill="#c8622a" opacity="0.85"/>
<circle cx="267.30" cy="156.86" r="0.6" fill="#c8622a" opacity="0.85"/>
<circle cx="271.95" cy="156.71" r="0.6" fill="#c8622a" opacity="0.85"/>
<circle cx="276.60" cy="156.86" r="0.6" fill="#c8622a" opacity="0.85"/>
<circle cx="281.25" cy="157.02" r="0.6" fill="#c8622a" opacity="0.85"/>
<circle cx="285.89" cy="156.86" r="0.6" fill="#c8622a" opacity="0.85"/>
<circle cx="290.54" cy="156.71" r="0.6" fill="#c8622a" opacity="0.85"/>
<circle cx="295.19" cy="156.86" r="0.6" fill="#c8622a" opacity="0.85"/>
<circle cx="299.84" cy="156.71" r="0.6" fill="#c8622a" opacity="0.85"/>
<circle cx="304.49" cy="156.55" r="0.6" fill="#c8622a" opacity="0.85"/>
<circle cx="309.14" cy="156.86" r="0.6" fill="#c8622a" opacity="0.85"/>
<circle cx="313.79" cy="156.71" r="0.6" fill="#c8622a" opacity="0.85"/>
<circle cx="318.44" cy="156.55" r="0.6" fill="#c8622a" opacity="0.85"/>
<circle cx="323.09" cy="156.71" r="0.6" fill="#c8622a" opacity="0.85"/>
<circle cx="327.74" cy="156.55" r="0.6" fill="#c8622a" opacity="0.85"/>
<circle cx="332.38" cy="156.40" r="0.6" fill="#c8622a" opacity="0.85"/>
<circle cx="337.03" cy="156.55" r="0.6" fill="#c8622a" opacity="0.85"/>
<circle cx="341.68" cy="156.24" r="0.6" fill="#c8622a" opacity="0.85"/>
<circle cx="346.33" cy="155.93" r="0.6" fill="#c8622a" opacity="0.85"/>
<circle cx="350.98" cy="156.09" r="0.6" fill="#c8622a" opacity="0.85"/>
<circle cx="355.63" cy="155.62" r="0.6" fill="#c8622a" opacity="0.85"/>
<circle cx="360.28" cy="156.24" r="0.6" fill="#c8622a" opacity="0.85"/>
<circle cx="364.93" cy="155.78" r="0.6" fill="#c8622a" opacity="0.85"/>
<circle cx="369.58" cy="155.93" r="0.6" fill="#c8622a" opacity="0.85"/>
<circle cx="374.23" cy="155.16" r="0.6" fill="#c8622a" opacity="0.85"/>
<circle cx="378.87" cy="152.83" r="0.6" fill="#c8622a" opacity="0.85"/>
<circle cx="383.52" cy="151.28" r="0.6" fill="#c8622a" opacity="0.85"/>
<circle cx="388.17" cy="155.93" r="0.6" fill="#c8622a" opacity="0.85"/>
<circle cx="392.82" cy="156.40" r="0.6" fill="#c8622a" opacity="0.85"/>
<rect x="411.2" y="109.3" width="14.5" height="6.4" fill="#7a7a7a"/>
<circle cx="407.3" cy="86.4" r="2.1" fill="none" stroke="#8a8a8a" stroke-width="0.7"/>
<line x1="407.3" y1="85.4" x2="407.3" y2="87.0" stroke="#8a8a8a" stroke-width="0.5"/>
<circle cx="413.4" cy="85.8" r="2.05" fill="#5e3a75"/>
<text x="416.40" y="87.40" font-size="4.2" fill="#5a5a5a" font-weight="normal" text-anchor="start" >10.9</text>
<circle cx="413.4" cy="92.47" r="2.05" fill="#46386a"/>
<text x="416.40" y="94.07" font-size="4.2" fill="#5a5a5a" font-weight="normal" text-anchor="start" >10.9</text>
<circle cx="413.4" cy="99.14" r="2.05" fill="#3d4a6e"/>
<text x="416.40" y="100.74" font-size="4.2" fill="#5a5a5a" font-weight="normal" text-anchor="start" >10.9</text>
<circle cx="413.4" cy="105.81" r="2.05" fill="#6b4530"/>
<text x="416.40" y="107.41" font-size="4.2" fill="#5a5a5a" font-weight="normal" text-anchor="start" >172.</text>
<circle cx="413.4" cy="112.47999999999999" r="2.05" fill="#e8403f"/>
<text x="416.40" y="114.08" font-size="4.2" fill="#e0e0e0" font-weight="normal" text-anchor="start" >172.1</text>
<circle cx="413.4" cy="119.15" r="2.05" fill="#2f5570"/>
<text x="416.40" y="120.75" font-size="4.2" fill="#5a5a5a" font-weight="normal" text-anchor="start" >172.</text>
<circle cx="413.4" cy="125.82" r="2.05" fill="#3f3475"/>
<text x="416.40" y="127.42" font-size="4.2" fill="#5a5a5a" font-weight="normal" text-anchor="start" >172.</text>
<circle cx="413.4" cy="132.49" r="2.05" fill="#2e6040"/>
<text x="416.40" y="134.09" font-size="4.2" fill="#5a5a5a" font-weight="normal" text-anchor="start" >10.9</text>
<circle cx="413.4" cy="139.16" r="2.05" fill="#3f6a2e"/>
<text x="416.40" y="140.76" font-size="4.2" fill="#5a5a5a" font-weight="normal" text-anchor="start" >172.</text>
<circle cx="413.4" cy="145.82999999999998" r="2.05" fill="#5a5a2a"/>
<text x="416.40" y="147.43" font-size="4.2" fill="#5a5a5a" font-weight="normal" text-anchor="start" >172.</text>
<rect x="423" y="118.5" width="2.2" height="9" fill="#050505"/>
<rect x="456.5" y="108.8" width="7.3" height="7.2" fill="#7a7a7a"/>
<path d="M96.50,206.20 A39.8,39.8 0 1 1 61.38,227.27 L71.35,232.58 A28.5,28.5 0 1 0 96.50,217.50 Z" fill="#8e44c8" stroke="#222" stroke-width="0.6"/>
<path d="M61.38,227.27 A39.8,39.8 0 0 1 67.49,218.76 L75.72,226.49 A28.5,28.5 0 0 0 71.35,232.58 Z" fill="#d048b8" stroke="#222" stroke-width="0.6"/>
<path d="M67.49,218.76 A39.8,39.8 0 0 1 74.96,212.53 L81.08,222.03 A28.5,28.5 0 0 0 75.72,226.49 Z" fill="#42c556" stroke="#222" stroke-width="0.6"/>
<path d="M74.96,212.53 A39.8,39.8 0 0 1 82.31,208.81 L86.34,219.37 A28.5,28.5 0 0 0 81.08,222.03 Z" fill="#d4a63a" stroke="#222" stroke-width="0.6"/>
<path d="M82.31,208.81 A39.8,39.8 0 0 1 89.78,206.77 L91.69,217.91 A28.5,28.5 0 0 0 86.34,219.37 Z" fill="#4a72d0" stroke="#222" stroke-width="0.6"/>
<path d="M89.78,206.77 A39.8,39.8 0 0 1 96.50,206.20 L96.50,217.50 A28.5,28.5 0 0 0 91.69,217.91 Z" fill="#d9434b" stroke="#222" stroke-width="0.6"/>
<circle cx="178.9" cy="204.5" r="2.1" fill="none" stroke="#8a8a8a" stroke-width="0.7"/>
<line x1="178.9" y1="203.5" x2="178.9" y2="205.1" stroke="#8a8a8a" stroke-width="0.5"/>
<circle cx="186" cy="203.5" r="2.05" fill="#8e44c8"/>
<text x="189.00" y="205.08" font-size="4.4" fill="#a5a5a5" font-weight="normal" text-anchor="start"  textLength="10.6" lengthAdjust="spacingAndGlyphs">10.91</text>
<circle cx="186" cy="210.3" r="2.05" fill="#d048b8"/>
<text x="189.00" y="211.88" font-size="4.4" fill="#a5a5a5" font-weight="normal" text-anchor="start"  textLength="10.6" lengthAdjust="spacingAndGlyphs">192.1</text>
<circle cx="186" cy="217.1" r="2.05" fill="#42c556"/>
<text x="189.00" y="218.68" font-size="4.4" fill="#a5a5a5" font-weight="normal" text-anchor="start"  textLength="10.6" lengthAdjust="spacingAndGlyphs">192.1</text>
<circle cx="186" cy="223.7" r="2.05" fill="#d4a63a"/>
<text x="189.00" y="225.28" font-size="4.4" fill="#a5a5a5" font-weight="normal" text-anchor="start"  textLength="10.6" lengthAdjust="spacingAndGlyphs">192.1</text>
<circle cx="186" cy="230.5" r="2.05" fill="#4a72d0"/>
<text x="189.00" y="232.08" font-size="4.4" fill="#a5a5a5" font-weight="normal" text-anchor="start"  textLength="10.6" lengthAdjust="spacingAndGlyphs">172.2</text>
<circle cx="186" cy="237.3" r="2.05" fill="#d9434b"/>
<text x="189.00" y="238.88" font-size="4.4" fill="#a5a5a5" font-weight="normal" text-anchor="start"  textLength="10.6" lengthAdjust="spacingAndGlyphs">172.2</text>
<path d="M262.2,202.3 L260.7,202.3 L260.7,252.4 L402.9,252.4 L402.9,253.9" fill="none" stroke="#a0a0a0" stroke-width="0.7"/>
<line x1="258.9" y1="252.40" x2="260.7" y2="252.40" stroke="#a0a0a0" stroke-width="0.6"/>
<text x="258.10" y="253.80" font-size="4" fill="#8c8c8c" font-weight="normal" text-anchor="end" >0</text>
<line x1="258.9" y1="240.90" x2="260.7" y2="240.90" stroke="#a0a0a0" stroke-width="0.6"/>
<text x="258.10" y="242.30" font-size="4" fill="#8c8c8c" font-weight="normal" text-anchor="end" >5</text>
<line x1="258.9" y1="229.40" x2="260.7" y2="229.40" stroke="#a0a0a0" stroke-width="0.6"/>
<text x="258.10" y="230.80" font-size="4" fill="#8c8c8c" font-weight="normal" text-anchor="end" >10</text>
<line x1="258.9" y1="217.90" x2="260.7" y2="217.90" stroke="#a0a0a0" stroke-width="0.6"/>
<text x="258.10" y="219.30" font-size="4" fill="#8c8c8c" font-weight="normal" text-anchor="end" >15</text>
<line x1="258.9" y1="206.50" x2="260.7" y2="206.50" stroke="#a0a0a0" stroke-width="0.6"/>
<text x="258.10" y="207.90" font-size="4" fill="#8c8c8c" font-weight="normal" text-anchor="end" >20</text>
<rect x="260.75" y="245.60" width="21.42" height="6.80" fill="#3aa49b"/>
<rect x="284.69" y="243.34" width="21.67" height="9.07" fill="#3aa49b"/>
<rect x="308.88" y="247.87" width="21.42" height="4.54" fill="#3aa49b"/>
<rect x="333.07" y="250.14" width="21.42" height="2.27" fill="#3aa49b"/>
<rect x="357.27" y="250.14" width="21.42" height="2.27" fill="#3aa49b"/>
<rect x="381.21" y="202.01" width="21.67" height="50.40" fill="#3aa49b"/>
<line x1="271.46" y1="252.4" x2="271.46" y2="254" stroke="#a0a0a0" stroke-width="0.6"/>
<text x="271.46" y="260.10" font-size="4" fill="#8c8c8c" font-weight="normal" text-anchor="middle" transform="rotate(-90 271.46 260.10)" dy="1.44" textLength="11.4" lengthAdjust="spacingAndGlyphs">21.27</text>
<text x="271.46" y="276.45" font-size="4" fill="#8c8c8c" font-weight="normal" text-anchor="middle" transform="rotate(-90 271.46 276.45)" dy="1.44" textLength="11.3" lengthAdjust="spacingAndGlyphs">192.16</text>
<line x1="295.52" y1="252.4" x2="295.52" y2="254" stroke="#a0a0a0" stroke-width="0.6"/>
<text x="295.52" y="260.10" font-size="4" fill="#8c8c8c" font-weight="normal" text-anchor="middle" transform="rotate(-90 295.52 260.10)" dy="1.44" textLength="11.4" lengthAdjust="spacingAndGlyphs">21.26</text>
<text x="295.52" y="276.45" font-size="4" fill="#8c8c8c" font-weight="normal" text-anchor="middle" transform="rotate(-90 295.52 276.45)" dy="1.44" textLength="11.3" lengthAdjust="spacingAndGlyphs">192.16</text>
<line x1="319.59" y1="252.4" x2="319.59" y2="254" stroke="#a0a0a0" stroke-width="0.6"/>
<text x="319.59" y="260.10" font-size="4" fill="#8c8c8c" font-weight="normal" text-anchor="middle" transform="rotate(-90 319.59 260.10)" dy="1.44" textLength="11.4" lengthAdjust="spacingAndGlyphs">21.25</text>
<text x="319.59" y="276.45" font-size="4" fill="#8c8c8c" font-weight="normal" text-anchor="middle" transform="rotate(-90 319.59 276.45)" dy="1.44" textLength="11.3" lengthAdjust="spacingAndGlyphs">192.16</text>
<line x1="343.79" y1="252.4" x2="343.79" y2="254" stroke="#a0a0a0" stroke-width="0.6"/>
<text x="343.79" y="260.10" font-size="4" fill="#8c8c8c" font-weight="normal" text-anchor="middle" transform="rotate(-90 343.79 260.10)" dy="1.44" textLength="11.4" lengthAdjust="spacingAndGlyphs">247.4</text>
<text x="343.79" y="276.45" font-size="4" fill="#8c8c8c" font-weight="normal" text-anchor="middle" transform="rotate(-90 343.79 276.45)" dy="1.44" textLength="11.3" lengthAdjust="spacingAndGlyphs">172.</text>
<line x1="367.98" y1="252.4" x2="367.98" y2="254" stroke="#a0a0a0" stroke-width="0.6"/>
<text x="367.98" y="260.10" font-size="4" fill="#8c8c8c" font-weight="normal" text-anchor="middle" transform="rotate(-90 367.98 260.10)" dy="1.44" textLength="11.4" lengthAdjust="spacingAndGlyphs">247.2</text>
<text x="367.98" y="276.45" font-size="4" fill="#8c8c8c" font-weight="normal" text-anchor="middle" transform="rotate(-90 367.98 276.45)" dy="1.44" textLength="11.3" lengthAdjust="spacingAndGlyphs">172.</text>
<line x1="392.05" y1="252.4" x2="392.05" y2="254" stroke="#a0a0a0" stroke-width="0.6"/>
<text x="392.05" y="260.10" font-size="4" fill="#8c8c8c" font-weight="normal" text-anchor="middle" transform="rotate(-90 392.05 260.10)" dy="1.44" textLength="11.4" lengthAdjust="spacingAndGlyphs">8.130</text>
<text x="392.05" y="276.45" font-size="4" fill="#8c8c8c" font-weight="normal" text-anchor="middle" transform="rotate(-90 392.05 276.45)" dy="1.44" textLength="11.3" lengthAdjust="spacingAndGlyphs">10.91</text>
<text x="310.10" y="288.06" font-size="4.6" fill="#b8b8b8" font-weight="bold" text-anchor="start"  textLength="43.4" lengthAdjust="spacingAndGlyphs">客户端请求报文TOP20</text>
<text x="247.10" y="228.60" font-size="4.4" fill="#b8b8b8" font-weight="bold" text-anchor="middle" transform="rotate(-90 247.10 228.60)" dy="1.58" textLength="34.0" lengthAdjust="spacingAndGlyphs">报文大小（bytes）</text>
<circle cx="407.2" cy="204.5" r="2.1" fill="none" stroke="#8a8a8a" stroke-width="0.7"/>
<line x1="407.2" y1="203.5" x2="407.2" y2="205.1" stroke="#8a8a8a" stroke-width="0.5"/>
<circle cx="413.5" cy="203.8" r="2.05" fill="#3ab5ac"/>
<text x="416.50" y="205.38" font-size="4.4" fill="#a5a5a5" font-weight="normal" text-anchor="start"  textLength="33.3" lengthAdjust="spacingAndGlyphs">报文大小（bytes）</text>
<rect x="587.5" y="62" width="466" height="240" fill="#999" filter="url(#blur)"/>
<rect x="587" y="61" width="466" height="240" fill="#1b1b1b"/>
<rect x="589.5" y="63.5" width="230" height="116" fill="#222222" stroke="#2c2c2c" stroke-width="1"/>
<path d="M813.5,176.5 L816.5,173.5" stroke="#444" stroke-width="0.6"/>
<rect x="822.5" y="63.5" width="230.5" height="116" fill="#222222" stroke="#2c2c2c" stroke-width="1"/>
<path d="M1047.0,176.5 L1050.0,173.5" stroke="#444" stroke-width="0.6"/>
<rect x="589.5" y="183.5" width="230" height="117.5" fill="#222222" stroke="#2c2c2c" stroke-width="1"/>
<path d="M813.5,298.0 L816.5,295.0" stroke="#444" stroke-width="0.6"/>
<rect x="822.5" y="183.5" width="230.5" height="117.5" fill="#222222" stroke="#2c2c2c" stroke-width="1"/>
<path d="M1047.0,298.0 L1050.0,295.0" stroke="#444" stroke-width="0.6"/>
<text x="592.60" y="70.04" font-size="5.4" fill="#b4b4b4" font-weight="normal" text-anchor="start"  textLength="40.3" lengthAdjust="spacingAndGlyphs">访问连接实时数量</text>
<text x="825.50" y="70.04" font-size="5.4" fill="#b4b4b4" font-weight="normal" text-anchor="start"  textLength="35.5" lengthAdjust="spacingAndGlyphs">实时VS访问统计</text>
<text x="592.60" y="190.74" font-size="5.4" fill="#b4b4b4" font-weight="normal" text-anchor="start"  textLength="47.5" lengthAdjust="spacingAndGlyphs">实时HTTP响应状态码</text>
<text x="825.80" y="190.74" font-size="5.4" fill="#b4b4b4" font-weight="normal" text-anchor="start"  textLength="34.7" lengthAdjust="spacingAndGlyphs">浏览器类型分布</text>
<polygon points="813.74,71.05 811.40,72.40 809.06,71.05 809.06,68.35 811.40,67.00 813.74,68.35" fill="none" stroke="#7c7c7c" stroke-width="1.1"/>
<circle cx="811.4" cy="69.7" r="1.1" fill="none" stroke="#7c7c7c" stroke-width="0.6"/>
<polygon points="1046.64,71.05 1044.30,72.40 1041.96,71.05 1041.96,68.35 1044.30,67.00 1046.64,68.35" fill="none" stroke="#7c7c7c" stroke-width="1.1"/>
<circle cx="1044.3" cy="69.7" r="1.1" fill="none" stroke="#7c7c7c" stroke-width="0.6"/>
<polygon points="813.74,191.75 811.40,193.10 809.06,191.75 809.06,189.05 811.40,187.70 813.74,189.05" fill="none" stroke="#7c7c7c" stroke-width="1.1"/>
<circle cx="811.4" cy="190.4" r="1.1" fill="none" stroke="#7c7c7c" stroke-width="0.6"/>
<polygon points="1046.74,191.75 1044.40,193.10 1042.06,191.75 1042.06,189.05 1044.40,187.70 1046.74,189.05" fill="none" stroke="#7c7c7c" stroke-width="1.1"/>
<circle cx="1044.4" cy="190.4" r="1.1" fill="none" stroke="#7c7c7c" stroke-width="0.6"/>
<path d="M610.0,82.8 L608.5,82.8 L608.5,157.9 L753.9,157.9 L753.9,159.4" fill="none" stroke="#a0a0a0" stroke-width="0.7"/>
<line x1="606.7" y1="157.90" x2="608.5" y2="157.90" stroke="#a0a0a0" stroke-width="0.6"/>
<text x="605.90" y="159.30" font-size="4" fill="#8c8c8c" font-weight="normal" text-anchor="end" >0</text>
<line x1="606.7" y1="143.48" x2="608.5" y2="143.48" stroke="#a0a0a0" stroke-width="0.6"/>
<text x="605.90" y="144.88" font-size="4" fill="#8c8c8c" font-weight="normal" text-anchor="end" >5</text>
<line x1="606.7" y1="129.06" x2="608.5" y2="129.06" stroke="#a0a0a0" stroke-width="0.6"/>
<text x="605.90" y="130.46" font-size="4" fill="#8c8c8c" font-weight="normal" text-anchor="end" >10</text>
<line x1="606.7" y1="114.64" x2="608.5" y2="114.64" stroke="#a0a0a0" stroke-width="0.6"/>
<text x="605.90" y="116.04" font-size="4" fill="#8c8c8c" font-weight="normal" text-anchor="end" >15</text>
<line x1="606.7" y1="100.22" x2="608.5" y2="100.22" stroke="#a0a0a0" stroke-width="0.6"/>
<text x="605.90" y="101.62" font-size="4" fill="#8c8c8c" font-weight="normal" text-anchor="end" >20</text>
<line x1="606.7" y1="85.80" x2="608.5" y2="85.80" stroke="#a0a0a0" stroke-width="0.6"/>
<text x="605.90" y="87.20" font-size="4" fill="#8c8c8c" font-weight="normal" text-anchor="end" >25</text>
<line x1="618.30" y1="157.9" x2="618.30" y2="159.70000000000002" stroke="#a0a0a0" stroke-width="0.6"/>
<text x="618.30" y="164.00" font-size="4" fill="#8c8c8c" font-weight="normal" text-anchor="middle"  textLength="16.5" lengthAdjust="spacingAndGlyphs">12:44:00</text>
<line x1="637.70" y1="157.9" x2="637.70" y2="159.70000000000002" stroke="#a0a0a0" stroke-width="0.6"/>
<text x="637.70" y="164.00" font-size="4" fill="#8c8c8c" font-weight="normal" text-anchor="middle"  textLength="16.5" lengthAdjust="spacingAndGlyphs">12:46:00</text>
<line x1="657.10" y1="157.9" x2="657.10" y2="159.70000000000002" stroke="#a0a0a0" stroke-width="0.6"/>
<text x="657.10" y="164.00" font-size="4" fill="#8c8c8c" font-weight="normal" text-anchor="middle"  textLength="16.5" lengthAdjust="spacingAndGlyphs">12:48:00</text>
<line x1="676.50" y1="157.9" x2="676.50" y2="159.70000000000002" stroke="#a0a0a0" stroke-width="0.6"/>
<text x="676.50" y="164.00" font-size="4" fill="#8c8c8c" font-weight="normal" text-anchor="middle"  textLength="16.5" lengthAdjust="spacingAndGlyphs">12:50:00</text>
<line x1="695.90" y1="157.9" x2="695.90" y2="159.70000000000002" stroke="#a0a0a0" stroke-width="0.6"/>
<text x="695.90" y="164.00" font-size="4" fill="#8c8c8c" font-weight="normal" text-anchor="middle"  textLength="16.5" lengthAdjust="spacingAndGlyphs">12:52:00</text>
<line x1="715.60" y1="157.9" x2="715.60" y2="159.70000000000002" stroke="#a0a0a0" stroke-width="0.6"/>
<text x="715.60" y="164.00" font-size="4" fill="#8c8c8c" font-weight="normal" text-anchor="middle"  textLength="16.5" lengthAdjust="spacingAndGlyphs">12:54:00</text>
<line x1="735.00" y1="157.9" x2="735.00" y2="159.70000000000002" stroke="#a0a0a0" stroke-width="0.6"/>
<text x="735.00" y="164.00" font-size="4" fill="#8c8c8c" font-weight="normal" text-anchor="middle"  textLength="16.5" lengthAdjust="spacingAndGlyphs">12:56:00</text>
<text x="651.30" y="170.86" font-size="4.6" fill="#b8b8b8" font-weight="bold" text-anchor="start"  textLength="60.3" lengthAdjust="spacingAndGlyphs">@timestamp per 30 seconds</text>
<text x="595.10" y="121.20" font-size="4.6" fill="#b8b8b8" font-weight="bold" text-anchor="middle" transform="rotate(-90 595.10 121.20)" dy="1.66" textLength="26.4" lengthAdjust="spacingAndGlyphs">访问连接统计</text>
<polyline points="608.48,120.56 617.80,115.02 623.35,111.49 627.88,117.54 632.42,83.27 637.46,129.64 642.25,120.56 646.78,120.56 652.33,108.72 656.86,123.08 661.91,135.69 666.95,111.24 671.23,102.92 676.52,117.54 681.31,132.16 685.85,117.54 690.89,111.49 695.42,117.54 700.46,117.54 705.50,100.40 710.54,115.02 715.58,111.49 720.37,108.72 724.91,123.84 729.95,114.52 734.49,117.54 739.53,105.95 744.57,115.02 749.61,115.02" fill="none" stroke="#80b43a" stroke-width="1.25" opacity="1"/>
<circle cx="757.9" cy="85.8" r="2.1" fill="none" stroke="#8a8a8a" stroke-width="0.7"/>
<line x1="757.9" y1="84.8" x2="757.9" y2="86.39999999999999" stroke="#8a8a8a" stroke-width="0.5"/>
<circle cx="765.2" cy="85.5" r="2.05" fill="#7ed32a"/>
<text x="768.20" y="87.08" font-size="4.4" fill="#a5a5a5" font-weight="normal" text-anchor="start"  textLength="26.0" lengthAdjust="spacingAndGlyphs">访问连接统计</text>
<path d="M844.2,82.8 L842.7,82.8 L842.7,157.9 L986.8,157.9 L986.8,159.4" fill="none" stroke="#a0a0a0" stroke-width="0.7"/>
<line x1="840.9000000000001" y1="157.90" x2="842.7" y2="157.90" stroke="#a0a0a0" stroke-width="0.6"/>
<text x="840.10" y="159.30" font-size="4" fill="#8c8c8c" font-weight="normal" text-anchor="end" >0</text>
<line x1="840.9000000000001" y1="137.20" x2="842.7" y2="137.20" stroke="#a0a0a0" stroke-width="0.6"/>
<text x="840.10" y="138.60" font-size="4" fill="#8c8c8c" font-weight="normal" text-anchor="end" >0.5</text>
<line x1="840.9000000000001" y1="116.80" x2="842.7" y2="116.80" stroke="#a0a0a0" stroke-width="0.6"/>
<text x="840.10" y="118.20" font-size="4" fill="#8c8c8c" font-weight="normal" text-anchor="end" >1</text>
<line x1="840.9000000000001" y1="95.60" x2="842.7" y2="95.60" stroke="#a0a0a0" stroke-width="0.6"/>
<text x="840.10" y="97.00" font-size="4" fill="#8c8c8c" font-weight="normal" text-anchor="end" >1.5</text>
<rect x="843.30" y="149.62" width="143.20" height="8.28" fill="#8f3aaa"/>
<rect x="843.30" y="141.34" width="0.92" height="16.56" fill="#8f3aaa"/>
<rect x="844.19" y="133.06" width="0.92" height="24.84" fill="#8f3aaa"/>
<rect x="845.09" y="133.06" width="0.92" height="24.84" fill="#8f3aaa"/>
<rect x="845.98" y="124.78" width="0.92" height="33.12" fill="#8f3aaa"/>
<rect x="846.88" y="133.06" width="0.92" height="24.84" fill="#8f3aaa"/>
<rect x="847.77" y="124.78" width="0.92" height="33.12" fill="#8f3aaa"/>
<rect x="848.67" y="149.62" width="0.92" height="8.28" fill="#8f3aaa"/>
<rect x="849.56" y="108.22" width="0.92" height="49.68" fill="#8f3aaa"/>
<rect x="850.46" y="124.78" width="0.92" height="33.12" fill="#8f3aaa"/>
<rect x="851.35" y="141.34" width="0.92" height="16.56" fill="#8f3aaa"/>
<rect x="852.25" y="124.78" width="0.92" height="33.12" fill="#8f3aaa"/>
<rect x="853.14" y="149.62" width="0.92" height="8.28" fill="#8f3aaa"/>
<rect x="854.04" y="141.34" width="0.92" height="16.56" fill="#8f3aaa"/>
<rect x="854.93" y="149.62" width="0.92" height="8.28" fill="#8f3aaa"/>
<rect x="855.83" y="141.34" width="0.92" height="16.56" fill="#8f3aaa"/>
<rect x="856.72" y="141.34" width="0.92" height="16.56" fill="#8f3aaa"/>
<rect x="857.62" y="116.50" width="0.92" height="41.40" fill="#8f3aaa"/>
<rect x="858.51" y="149.62" width="0.92" height="8.28" fill="#8f3aaa"/>
<rect x="859.41" y="149.62" width="0.92" height="8.28" fill="#8f3aaa"/>
<rect x="860.30" y="124.78" width="0.92" height="33.12" fill="#8f3aaa"/>
<rect x="861.20" y="133.06" width="0.92" height="24.84" fill="#8f3aaa"/>
<rect x="862.09" y="149.62" width="0.92" height="8.28" fill="#8f3aaa"/>
<rect x="862.99" y="133.06" width="0.92" height="24.84" fill="#8f3aaa"/>
<rect x="863.88" y="149.62" width="0.92" height="8.28" fill="#8f3aaa"/>
<rect x="864.78" y="141.34" width="0.92" height="16.56" fill="#8f3aaa"/>
<rect x="865.67" y="149.62" width="0.92" height="8.28" fill="#8f3aaa"/>
<rect x="866.57" y="83.38" width="0.92" height="74.52" fill="#8f3aaa"/>
<rect x="867.46" y="124.78" width="0.92" height="33.12" fill="#8f3aaa"/>
<rect x="868.36" y="149.62" width="0.92" height="8.28" fill="#8f3aaa"/>
<rect x="869.25" y="149.62" width="0.92" height="8.28" fill="#8f3aaa"/>
<rect x="870.15" y="91.66" width="0.92" height="66.24" fill="#8f3aaa"/>
<rect x="871.04" y="124.78" width="0.92" height="33.12" fill="#8f3aaa"/>
<rect x="871.94" y="149.62" width="0.92" height="8.28" fill="#8f3aaa"/>
<rect x="872.83" y="124.78" width="0.92" height="33.12" fill="#8f3aaa"/>
<rect x="873.73" y="141.34" width="0.92" height="16.56" fill="#8f3aaa"/>
<rect x="874.62" y="133.06" width="0.92" height="24.84" fill="#8f3aaa"/>
<rect x="875.52" y="149.62" width="0.92" height="8.28" fill="#8f3aaa"/>
<rect x="876.41" y="124.78" width="0.92" height="33.12" fill="#8f3aaa"/>
<rect x="877.31" y="133.06" width="0.92" height="24.84" fill="#8f3aaa"/>
<rect x="878.20" y="124.78" width="0.92" height="33.12" fill="#8f3aaa"/>
<rect x="879.10" y="124.78" width="0.92" height="33.12" fill="#8f3aaa"/>
<rect x="880.00" y="149.62" width="0.92" height="8.28" fill="#8f3aaa"/>
<rect x="880.89" y="141.34" width="0.92" height="16.56" fill="#8f3aaa"/>
<rect x="881.78" y="149.62" width="0.92" height="8.28" fill="#8f3aaa"/>
<rect x="882.68" y="149.62" width="0.92" height="8.28" fill="#8f3aaa"/>
<rect x="883.57" y="149.62" width="0.92" height="8.28" fill="#8f3aaa"/>
<rect x="884.47" y="141.34" width="0.92" height="16.56" fill="#8f3aaa"/>
<rect x="885.37" y="141.34" width="0.92" height="16.56" fill="#8f3aaa"/>
<rect x="886.26" y="116.50" width="0.92" height="41.40" fill="#8f3aaa"/>
<rect x="887.15" y="133.06" width="0.92" height="24.84" fill="#8f3aaa"/>
<rect x="888.05" y="141.34" width="0.92" height="16.56" fill="#8f3aaa"/>
<rect x="888.94" y="141.34" width="0.92" height="16.56" fill="#8f3aaa"/>
<rect x="889.84" y="133.06" width="0.92" height="24.84" fill="#8f3aaa"/>
<rect x="890.74" y="141.34" width="0.92" height="16.56" fill="#8f3aaa"/>
<rect x="891.63" y="141.34" width="0.92" height="16.56" fill="#8f3aaa"/>
<rect x="892.52" y="141.34" width="0.92" height="16.56" fill="#8f3aaa"/>
<rect x="893.42" y="133.06" width="0.92" height="24.84" fill="#8f3aaa"/>
<rect x="894.31" y="149.62" width="0.92" height="8.28" fill="#8f3aaa"/>
<rect x="895.21" y="116.50" width="0.92" height="41.40" fill="#8f3aaa"/>
<rect x="896.11" y="149.62" width="0.92" height="8.28" fill="#8f3aaa"/>
<rect x="897.00" y="133.06" width="0.92" height="24.84" fill="#8f3aaa"/>
<rect x="897.89" y="133.06" width="0.92" height="24.84" fill="#8f3aaa"/>
<rect x="898.79" y="149.62" width="0.92" height="8.28" fill="#8f3aaa"/>
<rect x="899.68" y="133.06" width="0.92" height="24.84" fill="#8f3aaa"/>
<rect x="900.58" y="141.34" width="0.92" height="16.56" fill="#8f3aaa"/>
<rect x="901.48" y="141.34" width="0.92" height="16.56" fill="#8f3aaa"/>
<rect x="902.37" y="149.62" width="0.92" height="8.28" fill="#8f3aaa"/>
<rect x="903.26" y="149.62" width="0.92" height="8.28" fill="#8f3aaa"/>
<rect x="904.16" y="149.62" width="0.92" height="8.28" fill="#8f3aaa"/>
<rect x="905.05" y="124.78" width="0.92" height="33.12" fill="#8f3aaa"/>
<rect x="905.95" y="149.62" width="0.92" height="8.28" fill="#8f3aaa"/>
<rect x="906.85" y="133.06" width="0.92" height="24.84" fill="#8f3aaa"/>
<rect x="907.74" y="124.78" width="0.92" height="33.12" fill="#8f3aaa"/>
<rect x="908.63" y="124.78" width="0.92" height="33.12" fill="#8f3aaa"/>
<rect x="909.53" y="141.34" width="0.92" height="16.56" fill="#8f3aaa"/>
<rect x="910.42" y="141.34" width="0.92" height="16.56" fill="#8f3aaa"/>
<rect x="911.32" y="141.34" width="0.92" height="16.56" fill="#8f3aaa"/>
<rect x="912.21" y="133.06" width="0.92" height="24.84" fill="#8f3aaa"/>
<rect x="913.11" y="149.62" width="0.92" height="8.28" fill="#8f3aaa"/>
<rect x="914.00" y="133.06" width="0.92" height="24.84" fill="#8f3aaa"/>
<rect x="914.90" y="133.06" width="0.92" height="24.84" fill="#8f3aaa"/>
<rect x="915.79" y="124.78" width="0.92" height="33.12" fill="#8f3aaa"/>
<rect x="916.69" y="149.62" width="0.92" height="8.28" fill="#8f3aaa"/>
<rect x="917.59" y="124.78" width="0.92" height="33.12" fill="#8f3aaa"/>
<rect x="918.48" y="149.62" width="0.92" height="8.28" fill="#8f3aaa"/>
<rect x="919.38" y="116.50" width="0.92" height="41.40" fill="#8f3aaa"/>
<rect x="920.27" y="141.34" width="0.92" height="16.56" fill="#8f3aaa"/>
<rect x="921.16" y="124.78" width="0.92" height="33.12" fill="#8f3aaa"/>
<rect x="922.06" y="141.34" width="0.92" height="16.56" fill="#8f3aaa"/>
<rect x="922.95" y="124.78" width="0.92" height="33.12" fill="#8f3aaa"/>
<rect x="923.85" y="141.34" width="0.92" height="16.56" fill="#8f3aaa"/>
<rect x="924.75" y="141.34" width="0.92" height="16.56" fill="#8f3aaa"/>
<rect x="925.64" y="141.34" width="0.92" height="16.56" fill="#8f3aaa"/>
<rect x="926.53" y="149.62" width="0.92" height="8.28" fill="#8f3aaa"/>
<rect x="927.43" y="149.62" width="0.92" height="8.28" fill="#8f3aaa"/>
<rect x="928.32" y="149.62" width="0.92" height="8.28" fill="#8f3aaa"/>
<rect x="929.22" y="133.06" width="0.92" height="24.84" fill="#8f3aaa"/>
<rect x="930.12" y="116.50" width="0.92" height="41.40" fill="#8f3aaa"/>
<rect x="931.01" y="149.62" width="0.92" height="8.28" fill="#8f3aaa"/>
<rect x="931.90" y="149.62" width="0.92" height="8.28" fill="#8f3aaa"/>
<rect x="932.80" y="116.50" width="0.92" height="41.40" fill="#8f3aaa"/>
<rect x="933.69" y="108.22" width="0.92" height="49.68" fill="#8f3aaa"/>
<rect x="934.59" y="141.34" width="0.92" height="16.56" fill="#8f3aaa"/>
<rect x="935.49" y="149.62" width="0.92" height="8.28" fill="#8f3aaa"/>
<rect x="936.38" y="141.34" width="0.92" height="16.56" fill="#8f3aaa"/>
<rect x="937.27" y="133.06" width="0.92" height="24.84" fill="#8f3aaa"/>
<rect x="938.17" y="141.34" width="0.92" height="16.56" fill="#8f3aaa"/>
<rect x="939.06" y="141.34" width="0.92" height="16.56" fill="#8f3aaa"/>
<rect x="939.96" y="149.62" width="0.92" height="8.28" fill="#8f3aaa"/>
<rect x="940.86" y="124.78" width="0.92" height="33.12" fill="#8f3aaa"/>
<rect x="941.75" y="149.62" width="0.92" height="8.28" fill="#8f3aaa"/>
<rect x="942.64" y="108.22" width="0.92" height="49.68" fill="#8f3aaa"/>
<rect x="943.54" y="133.06" width="0.92" height="24.84" fill="#8f3aaa"/>
<rect x="944.43" y="149.62" width="0.92" height="8.28" fill="#8f3aaa"/>
<rect x="945.33" y="133.06" width="0.92" height="24.84" fill="#8f3aaa"/>
<rect x="946.23" y="99.94" width="0.92" height="57.96" fill="#8f3aaa"/>
<rect x="947.12" y="141.34" width="0.92" height="16.56" fill="#8f3aaa"/>
<rect x="948.01" y="133.06" width="0.92" height="24.84" fill="#8f3aaa"/>
<rect x="948.91" y="149.62" width="0.92" height="8.28" fill="#8f3aaa"/>
<rect x="949.80" y="141.34" width="0.92" height="16.56" fill="#8f3aaa"/>
<rect x="950.70" y="116.50" width="0.92" height="41.40" fill="#8f3aaa"/>
<rect x="951.60" y="133.06" width="0.92" height="24.84" fill="#8f3aaa"/>
<rect x="952.49" y="149.62" width="0.92" height="8.28" fill="#8f3aaa"/>
<rect x="953.38" y="141.34" width="0.92" height="16.56" fill="#8f3aaa"/>
<rect x="954.28" y="116.50" width="0.92" height="41.40" fill="#8f3aaa"/>
<rect x="955.17" y="124.78" width="0.92" height="33.12" fill="#8f3aaa"/>
<rect x="956.07" y="116.50" width="0.92" height="41.40" fill="#8f3aaa"/>
<rect x="956.97" y="141.34" width="0.92" height="16.56" fill="#8f3aaa"/>
<rect x="957.86" y="141.34" width="0.92" height="16.56" fill="#8f3aaa"/>
<rect x="958.75" y="133.06" width="0.92" height="24.84" fill="#8f3aaa"/>
<rect x="959.65" y="141.34" width="0.92" height="16.56" fill="#8f3aaa"/>
<rect x="960.54" y="149.62" width="0.92" height="8.28" fill="#8f3aaa"/>
<rect x="961.44" y="141.34" width="0.92" height="16.56" fill="#8f3aaa"/>
<rect x="962.34" y="149.62" width="0.92" height="8.28" fill="#8f3aaa"/>
<rect x="963.23" y="141.34" width="0.92" height="16.56" fill="#8f3aaa"/>
<rect x="964.12" y="116.50" width="0.92" height="41.40" fill="#8f3aaa"/>
<rect x="965.02" y="124.78" width="0.92" height="33.12" fill="#8f3aaa"/>
<rect x="965.91" y="108.22" width="0.92" height="49.68" fill="#8f3aaa"/>
<rect x="966.81" y="141.34" width="0.92" height="16.56" fill="#8f3aaa"/>
<rect x="967.70" y="141.34" width="0.92" height="16.56" fill="#8f3aaa"/>
<rect x="968.60" y="149.62" width="0.92" height="8.28" fill="#8f3aaa"/>
<rect x="969.50" y="149.62" width="0.92" height="8.28" fill="#8f3aaa"/>
<rect x="970.39" y="133.06" width="0.92" height="24.84" fill="#8f3aaa"/>
<rect x="971.28" y="124.78" width="0.92" height="33.12" fill="#8f3aaa"/>
<rect x="972.18" y="141.34" width="0.92" height="16.56" fill="#8f3aaa"/>
<rect x="973.08" y="133.06" width="0.92" height="24.84" fill="#8f3aaa"/>
<rect x="973.97" y="133.06" width="0.92" height="24.84" fill="#8f3aaa"/>
<rect x="974.87" y="133.06" width="0.92" height="24.84" fill="#8f3aaa"/>
<rect x="975.76" y="133.06" width="0.92" height="24.84" fill="#8f3aaa"/>
<rect x="976.65" y="133.06" width="0.92" height="24.84" fill="#8f3aaa"/>
<rect x="977.55" y="108.22" width="0.92" height="49.68" fill="#8f3aaa"/>
<rect x="978.44" y="133.06" width="0.92" height="24.84" fill="#8f3aaa"/>
<rect x="979.34" y="149.62" width="0.92" height="8.28" fill="#8f3aaa"/>
<rect x="980.24" y="141.34" width="0.92" height="16.56" fill="#8f3aaa"/>
<rect x="981.13" y="133.06" width="0.92" height="24.84" fill="#8f3aaa"/>
<rect x="982.02" y="133.06" width="0.92" height="24.84" fill="#8f3aaa"/>
<rect x="982.92" y="149.62" width="0.92" height="8.28" fill="#8f3aaa"/>
<rect x="983.82" y="124.78" width="0.92" height="33.12" fill="#8f3aaa"/>
<rect x="984.71" y="141.34" width="0.92" height="16.56" fill="#8f3aaa"/>
<rect x="985.61" y="141.34" width="0.92" height="16.56" fill="#8f3aaa"/>
<rect x="843.30" y="149.62" width="0.5" height="8.28" fill="#5d2a70"/>
<rect x="875.52" y="149.62" width="0.5" height="8.28" fill="#5d2a70"/>
<rect x="881.78" y="149.62" width="0.5" height="8.28" fill="#5d2a70"/>
<rect x="884.47" y="149.62" width="0.5" height="8.28" fill="#5d2a70"/>
<rect x="888.94" y="149.62" width="0.5" height="8.28" fill="#5d2a70"/>
<rect x="895.21" y="149.62" width="0.5" height="8.28" fill="#5d2a70"/>
<rect x="898.79" y="149.62" width="0.5" height="8.28" fill="#5d2a70"/>
<rect x="901.48" y="149.62" width="0.5" height="8.28" fill="#5d2a70"/>
<rect x="903.26" y="149.62" width="0.5" height="8.28" fill="#5d2a70"/>
<rect x="919.38" y="149.62" width="0.5" height="8.28" fill="#5d2a70"/>
<rect x="920.27" y="149.62" width="0.5" height="8.28" fill="#5d2a70"/>
<rect x="947.12" y="149.62" width="0.5" height="8.28" fill="#5d2a70"/>
<rect x="960.54" y="149.62" width="0.5" height="8.28" fill="#5d2a70"/>
<rect x="970.39" y="149.62" width="0.5" height="8.28" fill="#5d2a70"/>
<rect x="975.76" y="149.62" width="0.5" height="8.28" fill="#5d2a70"/>
<line x1="852.00" y1="157.9" x2="852.00" y2="159.70000000000002" stroke="#a0a0a0" stroke-width="0.6"/>
<text x="852.00" y="164.00" font-size="4" fill="#8c8c8c" font-weight="normal" text-anchor="middle"  textLength="16.5" lengthAdjust="spacingAndGlyphs">12:44:00</text>
<line x1="871.70" y1="157.9" x2="871.70" y2="159.70000000000002" stroke="#a0a0a0" stroke-width="0.6"/>
<text x="871.70" y="164.00" font-size="4" fill="#8c8c8c" font-weight="normal" text-anchor="middle"  textLength="16.5" lengthAdjust="spacingAndGlyphs">12:46:00</text>
<line x1="891.10" y1="157.9" x2="891.10" y2="159.70000000000002" stroke="#a0a0a0" stroke-width="0.6"/>
<text x="891.10" y="164.00" font-size="4" fill="#8c8c8c" font-weight="normal" text-anchor="middle"  textLength="16.5" lengthAdjust="spacingAndGlyphs">12:48:00</text>
<line x1="910.20" y1="157.9" x2="910.20" y2="159.70000000000002" stroke="#a0a0a0" stroke-width="0.6"/>
<text x="910.20" y="164.00" font-size="4" fill="#8c8c8c" font-weight="normal" text-anchor="middle"  textLength="16.5" lengthAdjust="spacingAndGlyphs">12:50:00</text>
<line x1="929.10" y1="157.9" x2="929.10" y2="159.70000000000002" stroke="#a0a0a0" stroke-width="0.6"/>
<text x="929.10" y="164.00" font-size="4" fill="#8c8c8c" font-weight="normal" text-anchor="middle"  textLength="16.5" lengthAdjust="spacingAndGlyphs">12:52:00</text>
<line x1="948.50" y1="157.9" x2="948.50" y2="159.70000000000002" stroke="#a0a0a0" stroke-width="0.6"/>
<text x="948.50" y="164.00" font-size="4" fill="#8c8c8c" font-weight="normal" text-anchor="middle"  textLength="16.5" lengthAdjust="spacingAndGlyphs">12:54:00</text>
<line x1="967.40" y1="157.9" x2="967.40" y2="159.70000000000002" stroke="#a0a0a0" stroke-width="0.6"/>
<text x="967.40" y="164.00" font-size="4" fill="#8c8c8c" font-weight="normal" text-anchor="middle"  textLength="16.5" lengthAdjust="spacingAndGlyphs">12:56:00</text>
<text x="886.00" y="170.86" font-size="4.6" fill="#b8b8b8" font-weight="bold" text-anchor="start"  textLength="57.5" lengthAdjust="spacingAndGlyphs">@timestamp per 5 seconds</text>
<text x="827.60" y="120.60" font-size="4.4" fill="#b8b8b8" font-weight="bold" text-anchor="middle" transform="rotate(-90 827.60 120.60)" dy="1.58" textLength="12.6" lengthAdjust="spacingAndGlyphs">Count</text>
<circle cx="990.9" cy="85.8" r="2.1" fill="none" stroke="#8a8a8a" stroke-width="0.7"/>
<line x1="990.9" y1="84.8" x2="990.9" y2="86.39999999999999" stroke="#8a8a8a" stroke-width="0.5"/>
<circle cx="997.9" cy="85.5" r="2.05" fill="#b040d0"/>
<text x="1000.90" y="87.08" font-size="4.4" fill="#a5a5a5" font-weight="normal" text-anchor="start"  textLength="20.2" lengthAdjust="spacingAndGlyphs">vs_site_80</text>
<path d="M610.8,203.5 L609.3,203.5 L609.3,278 L753.9,278 L753.9,279.5" fill="none" stroke="#a0a0a0" stroke-width="0.7"/>
<line x1="607.5" y1="278.00" x2="609.3" y2="278.00" stroke="#a0a0a0" stroke-width="0.6"/>
<text x="606.70" y="279.40" font-size="4" fill="#8c8c8c" font-weight="normal" text-anchor="end" >0</text>
<line x1="607.5" y1="258.10" x2="609.3" y2="258.10" stroke="#a0a0a0" stroke-width="0.6"/>
<text x="606.70" y="259.50" font-size="4" fill="#8c8c8c" font-weight="normal" text-anchor="end" >0.5</text>
<line x1="607.5" y1="237.20" x2="609.3" y2="237.20" stroke="#a0a0a0" stroke-width="0.6"/>
<text x="606.70" y="238.60" font-size="4" fill="#8c8c8c" font-weight="normal" text-anchor="end" >1</text>
<line x1="607.5" y1="216.30" x2="609.3" y2="216.30" stroke="#a0a0a0" stroke-width="0.6"/>
<text x="606.70" y="217.70" font-size="4" fill="#8c8c8c" font-weight="normal" text-anchor="end" >1.5</text>
<rect x="610.00" y="269.64" width="143.50" height="8.36" fill="#a23aa8"/>
<rect x="610.00" y="269.64" width="0.92" height="8.36" fill="#a23aa8"/>
<rect x="610.90" y="252.92" width="0.92" height="25.08" fill="#a23aa8"/>
<rect x="611.79" y="252.92" width="0.92" height="25.08" fill="#a23aa8"/>
<rect x="612.69" y="252.92" width="0.92" height="25.08" fill="#a23aa8"/>
<rect x="613.59" y="269.64" width="0.92" height="8.36" fill="#a23aa8"/>
<rect x="614.48" y="269.64" width="0.92" height="8.36" fill="#a23aa8"/>
<rect x="615.38" y="269.64" width="0.92" height="8.36" fill="#a23aa8"/>
<rect x="616.28" y="227.84" width="0.92" height="50.16" fill="#a23aa8"/>
<rect x="617.17" y="252.92" width="0.92" height="25.08" fill="#a23aa8"/>
<rect x="618.07" y="269.64" width="0.92" height="8.36" fill="#a23aa8"/>
<rect x="618.97" y="261.28" width="0.92" height="16.72" fill="#a23aa8"/>
<rect x="619.87" y="269.64" width="0.92" height="8.36" fill="#a23aa8"/>
<rect x="620.76" y="269.64" width="0.92" height="8.36" fill="#a23aa8"/>
<rect x="621.66" y="261.28" width="0.92" height="16.72" fill="#a23aa8"/>
<rect x="622.56" y="252.92" width="0.92" height="25.08" fill="#a23aa8"/>
<rect x="623.45" y="261.28" width="0.92" height="16.72" fill="#a23aa8"/>
<rect x="624.35" y="269.64" width="0.92" height="8.36" fill="#a23aa8"/>
<rect x="625.25" y="269.64" width="0.92" height="8.36" fill="#a23aa8"/>
<rect x="626.14" y="269.64" width="0.92" height="8.36" fill="#a23aa8"/>
<rect x="627.04" y="244.56" width="0.92" height="33.44" fill="#a23aa8"/>
<rect x="627.94" y="236.20" width="0.92" height="41.80" fill="#a23aa8"/>
<rect x="628.83" y="252.92" width="0.92" height="25.08" fill="#a23aa8"/>
<rect x="629.73" y="252.92" width="0.92" height="25.08" fill="#a23aa8"/>
<rect x="630.63" y="252.92" width="0.92" height="25.08" fill="#a23aa8"/>
<rect x="631.52" y="244.56" width="0.92" height="33.44" fill="#a23aa8"/>
<rect x="632.42" y="252.92" width="0.92" height="25.08" fill="#a23aa8"/>
<rect x="633.32" y="202.76" width="0.92" height="75.24" fill="#a23aa8"/>
<rect x="634.22" y="252.92" width="0.92" height="25.08" fill="#a23aa8"/>
<rect x="635.11" y="261.28" width="0.92" height="16.72" fill="#a23aa8"/>
<rect x="636.01" y="252.92" width="0.92" height="25.08" fill="#a23aa8"/>
<rect x="636.91" y="261.28" width="0.92" height="16.72" fill="#a23aa8"/>
<rect x="637.80" y="261.28" width="0.92" height="16.72" fill="#a23aa8"/>
<rect x="638.70" y="261.28" width="0.92" height="16.72" fill="#a23aa8"/>
<rect x="639.60" y="261.28" width="0.92" height="16.72" fill="#a23aa8"/>
<rect x="640.49" y="261.28" width="0.92" height="16.72" fill="#a23aa8"/>
<rect x="641.39" y="269.64" width="0.92" height="8.36" fill="#a23aa8"/>
<rect x="642.29" y="252.92" width="0.92" height="25.08" fill="#a23aa8"/>
<rect x="643.18" y="252.92" width="0.92" height="25.08" fill="#a23aa8"/>
<rect x="644.08" y="236.20" width="0.92" height="41.80" fill="#a23aa8"/>
<rect x="644.98" y="252.92" width="0.92" height="25.08" fill="#a23aa8"/>
<rect x="645.88" y="261.28" width="0.92" height="16.72" fill="#a23aa8"/>
<rect x="646.77" y="252.92" width="0.92" height="25.08" fill="#a23aa8"/>
<rect x="647.67" y="269.64" width="0.92" height="8.36" fill="#a23aa8"/>
<rect x="648.57" y="252.92" width="0.92" height="25.08" fill="#a23aa8"/>
<rect x="649.46" y="261.28" width="0.92" height="16.72" fill="#a23aa8"/>
<rect x="650.36" y="236.20" width="0.92" height="41.80" fill="#a23aa8"/>
<rect x="651.26" y="269.64" width="0.92" height="8.36" fill="#a23aa8"/>
<rect x="652.15" y="261.28" width="0.92" height="16.72" fill="#a23aa8"/>
<rect x="653.05" y="269.64" width="0.92" height="8.36" fill="#a23aa8"/>
<rect x="653.95" y="261.28" width="0.92" height="16.72" fill="#a23aa8"/>
<rect x="654.84" y="261.28" width="0.92" height="16.72" fill="#a23aa8"/>
<rect x="655.74" y="261.28" width="0.92" height="16.72" fill="#a23aa8"/>
<rect x="656.64" y="269.64" width="0.92" height="8.36" fill="#a23aa8"/>
<rect x="657.53" y="261.28" width="0.92" height="16.72" fill="#a23aa8"/>
<rect x="658.43" y="269.64" width="0.92" height="8.36" fill="#a23aa8"/>
<rect x="659.33" y="269.64" width="0.92" height="8.36" fill="#a23aa8"/>
<rect x="660.23" y="269.64" width="0.92" height="8.36" fill="#a23aa8"/>
<rect x="661.12" y="261.28" width="0.92" height="16.72" fill="#a23aa8"/>
<rect x="662.02" y="269.64" width="0.92" height="8.36" fill="#a23aa8"/>
<rect x="662.92" y="252.92" width="0.92" height="25.08" fill="#a23aa8"/>
<rect x="663.81" y="244.56" width="0.92" height="33.44" fill="#a23aa8"/>
<rect x="664.71" y="261.28" width="0.92" height="16.72" fill="#a23aa8"/>
<rect x="665.61" y="252.92" width="0.92" height="25.08" fill="#a23aa8"/>
<rect x="666.50" y="244.56" width="0.92" height="33.44" fill="#a23aa8"/>
<rect x="667.40" y="269.64" width="0.92" height="8.36" fill="#a23aa8"/>
<rect x="668.30" y="269.64" width="0.92" height="8.36" fill="#a23aa8"/>
<rect x="669.19" y="252.92" width="0.92" height="25.08" fill="#a23aa8"/>
<rect x="670.09" y="252.92" width="0.92" height="25.08" fill="#a23aa8"/>
<rect x="670.99" y="261.28" width="0.92" height="16.72" fill="#a23aa8"/>
<rect x="671.88" y="269.64" width="0.92" height="8.36" fill="#a23aa8"/>
<rect x="672.78" y="261.28" width="0.92" height="16.72" fill="#a23aa8"/>
<rect x="673.68" y="244.56" width="0.92" height="33.44" fill="#a23aa8"/>
<rect x="674.58" y="244.56" width="0.92" height="33.44" fill="#a23aa8"/>
<rect x="675.47" y="252.92" width="0.92" height="25.08" fill="#a23aa8"/>
<rect x="676.37" y="269.64" width="0.92" height="8.36" fill="#a23aa8"/>
<rect x="677.27" y="244.56" width="0.92" height="33.44" fill="#a23aa8"/>
<rect x="678.16" y="261.28" width="0.92" height="16.72" fill="#a23aa8"/>
<rect x="679.06" y="252.92" width="0.92" height="25.08" fill="#a23aa8"/>
<rect x="679.96" y="236.20" width="0.92" height="41.80" fill="#a23aa8"/>
<rect x="680.85" y="236.20" width="0.92" height="41.80" fill="#a23aa8"/>
<rect x="681.75" y="261.28" width="0.92" height="16.72" fill="#a23aa8"/>
<rect x="682.65" y="252.92" width="0.92" height="25.08" fill="#a23aa8"/>
<rect x="683.54" y="269.64" width="0.92" height="8.36" fill="#a23aa8"/>
<rect x="684.44" y="261.28" width="0.92" height="16.72" fill="#a23aa8"/>
<rect x="685.34" y="261.28" width="0.92" height="16.72" fill="#a23aa8"/>
<rect x="686.23" y="261.28" width="0.92" height="16.72" fill="#a23aa8"/>
<rect x="687.13" y="261.28" width="0.92" height="16.72" fill="#a23aa8"/>
<rect x="688.03" y="252.92" width="0.92" height="25.08" fill="#a23aa8"/>
<rect x="688.92" y="261.28" width="0.92" height="16.72" fill="#a23aa8"/>
<rect x="689.82" y="269.64" width="0.92" height="8.36" fill="#a23aa8"/>
<rect x="690.72" y="269.64" width="0.92" height="8.36" fill="#a23aa8"/>
<rect x="691.62" y="236.20" width="0.92" height="41.80" fill="#a23aa8"/>
<rect x="692.51" y="269.64" width="0.92" height="8.36" fill="#a23aa8"/>
<rect x="693.41" y="269.64" width="0.92" height="8.36" fill="#a23aa8"/>
<rect x="694.31" y="269.64" width="0.92" height="8.36" fill="#a23aa8"/>
<rect x="695.20" y="261.28" width="0.92" height="16.72" fill="#a23aa8"/>
<rect x="696.10" y="261.28" width="0.92" height="16.72" fill="#a23aa8"/>
<rect x="697.00" y="261.28" width="0.92" height="16.72" fill="#a23aa8"/>
<rect x="697.89" y="269.64" width="0.92" height="8.36" fill="#a23aa8"/>
<rect x="698.79" y="261.28" width="0.92" height="16.72" fill="#a23aa8"/>
<rect x="699.69" y="261.28" width="0.92" height="16.72" fill="#a23aa8"/>
<rect x="700.58" y="269.64" width="0.92" height="8.36" fill="#a23aa8"/>
<rect x="701.48" y="227.84" width="0.92" height="50.16" fill="#a23aa8"/>
<rect x="702.38" y="236.20" width="0.92" height="41.80" fill="#a23aa8"/>
<rect x="703.27" y="269.64" width="0.92" height="8.36" fill="#a23aa8"/>
<rect x="704.17" y="261.28" width="0.92" height="16.72" fill="#a23aa8"/>
<rect x="705.07" y="269.64" width="0.92" height="8.36" fill="#a23aa8"/>
<rect x="705.97" y="261.28" width="0.92" height="16.72" fill="#a23aa8"/>
<rect x="706.86" y="269.64" width="0.92" height="8.36" fill="#a23aa8"/>
<rect x="707.76" y="261.28" width="0.92" height="16.72" fill="#a23aa8"/>
<rect x="708.66" y="261.28" width="0.92" height="16.72" fill="#a23aa8"/>
<rect x="709.55" y="252.92" width="0.92" height="25.08" fill="#a23aa8"/>
<rect x="710.45" y="269.64" width="0.92" height="8.36" fill="#a23aa8"/>
<rect x="711.35" y="261.28" width="0.92" height="16.72" fill="#a23aa8"/>
<rect x="712.24" y="261.28" width="0.92" height="16.72" fill="#a23aa8"/>
<rect x="713.14" y="219.48" width="0.92" height="58.52" fill="#a23aa8"/>
<rect x="714.04" y="261.28" width="0.92" height="16.72" fill="#a23aa8"/>
<rect x="714.93" y="261.28" width="0.92" height="16.72" fill="#a23aa8"/>
<rect x="715.83" y="252.92" width="0.92" height="25.08" fill="#a23aa8"/>
<rect x="716.73" y="269.64" width="0.92" height="8.36" fill="#a23aa8"/>
<rect x="717.62" y="269.64" width="0.92" height="8.36" fill="#a23aa8"/>
<rect x="718.52" y="261.28" width="0.92" height="16.72" fill="#a23aa8"/>
<rect x="719.42" y="244.56" width="0.92" height="33.44" fill="#a23aa8"/>
<rect x="720.32" y="252.92" width="0.92" height="25.08" fill="#a23aa8"/>
<rect x="721.21" y="269.64" width="0.92" height="8.36" fill="#a23aa8"/>
<rect x="722.11" y="236.20" width="0.92" height="41.80" fill="#a23aa8"/>
<rect x="723.01" y="252.92" width="0.92" height="25.08" fill="#a23aa8"/>
<rect x="723.90" y="269.64" width="0.92" height="8.36" fill="#a23aa8"/>
<rect x="724.80" y="261.28" width="0.92" height="16.72" fill="#a23aa8"/>
<rect x="725.70" y="261.28" width="0.92" height="16.72" fill="#a23aa8"/>
<rect x="726.59" y="269.64" width="0.92" height="8.36" fill="#a23aa8"/>
<rect x="727.49" y="269.64" width="0.92" height="8.36" fill="#a23aa8"/>
<rect x="728.39" y="269.64" width="0.92" height="8.36" fill="#a23aa8"/>
<rect x="729.28" y="261.28" width="0.92" height="16.72" fill="#a23aa8"/>
<rect x="730.18" y="269.64" width="0.92" height="8.36" fill="#a23aa8"/>
<rect x="731.08" y="261.28" width="0.92" height="16.72" fill="#a23aa8"/>
<rect x="731.98" y="227.84" width="0.92" height="50.16" fill="#a23aa8"/>
<rect x="732.87" y="252.92" width="0.92" height="25.08" fill="#a23aa8"/>
<rect x="733.77" y="261.28" width="0.92" height="16.72" fill="#a23aa8"/>
<rect x="734.67" y="269.64" width="0.92" height="8.36" fill="#a23aa8"/>
<rect x="735.56" y="252.92" width="0.92" height="25.08" fill="#a23aa8"/>
<rect x="736.46" y="269.64" width="0.92" height="8.36" fill="#a23aa8"/>
<rect x="737.36" y="261.28" width="0.92" height="16.72" fill="#a23aa8"/>
<rect x="738.25" y="261.28" width="0.92" height="16.72" fill="#a23aa8"/>
<rect x="739.15" y="261.28" width="0.92" height="16.72" fill="#a23aa8"/>
<rect x="740.05" y="269.64" width="0.92" height="8.36" fill="#a23aa8"/>
<rect x="740.94" y="261.28" width="0.92" height="16.72" fill="#a23aa8"/>
<rect x="741.84" y="269.64" width="0.92" height="8.36" fill="#a23aa8"/>
<rect x="742.74" y="244.56" width="0.92" height="33.44" fill="#a23aa8"/>
<rect x="743.63" y="269.64" width="0.92" height="8.36" fill="#a23aa8"/>
<rect x="744.53" y="227.84" width="0.92" height="50.16" fill="#a23aa8"/>
<rect x="745.43" y="269.64" width="0.92" height="8.36" fill="#a23aa8"/>
<rect x="746.33" y="261.28" width="0.92" height="16.72" fill="#a23aa8"/>
<rect x="747.22" y="261.28" width="0.92" height="16.72" fill="#a23aa8"/>
<rect x="748.12" y="269.64" width="0.92" height="8.36" fill="#a23aa8"/>
<rect x="749.02" y="269.64" width="0.92" height="8.36" fill="#a23aa8"/>
<rect x="749.91" y="261.28" width="0.92" height="16.72" fill="#a23aa8"/>
<rect x="750.81" y="261.28" width="0.92" height="16.72" fill="#a23aa8"/>
<rect x="751.71" y="244.56" width="0.92" height="33.44" fill="#a23aa8"/>
<rect x="752.60" y="236.20" width="0.92" height="41.80" fill="#a23aa8"/>
<rect x="610.00" y="269.64" width="0.5" height="8.36" fill="#5a2560"/>
<rect x="617.17" y="269.64" width="0.5" height="8.36" fill="#5a2560"/>
<rect x="634.22" y="269.64" width="0.5" height="8.36" fill="#5a2560"/>
<rect x="641.39" y="269.64" width="0.5" height="8.36" fill="#5a2560"/>
<rect x="642.29" y="269.64" width="0.5" height="8.36" fill="#5a2560"/>
<rect x="643.18" y="269.64" width="0.5" height="8.36" fill="#5a2560"/>
<rect x="644.98" y="269.64" width="0.5" height="8.36" fill="#5a2560"/>
<rect x="654.84" y="269.64" width="0.5" height="8.36" fill="#5a2560"/>
<rect x="661.12" y="269.64" width="0.5" height="8.36" fill="#5a2560"/>
<rect x="662.02" y="269.64" width="0.5" height="8.36" fill="#5a2560"/>
<rect x="679.96" y="269.64" width="0.5" height="8.36" fill="#5a2560"/>
<rect x="682.65" y="269.64" width="0.5" height="8.36" fill="#5a2560"/>
<rect x="693.41" y="269.64" width="0.5" height="8.36" fill="#5a2560"/>
<rect x="697.89" y="269.64" width="0.5" height="8.36" fill="#5a2560"/>
<rect x="705.07" y="269.64" width="0.5" height="8.36" fill="#5a2560"/>
<rect x="709.55" y="269.64" width="0.5" height="8.36" fill="#5a2560"/>
<rect x="714.04" y="269.64" width="0.5" height="8.36" fill="#5a2560"/>
<rect x="725.70" y="269.64" width="0.5" height="8.36" fill="#5a2560"/>
<rect x="742.74" y="269.64" width="0.5" height="8.36" fill="#5a2560"/>
<rect x="751.71" y="269.64" width="0.5" height="8.36" fill="#5a2560"/>
<rect x="636.3" y="211.8" width="1.6" height="18.3" fill="#b07a3a"/>
<rect x="636.3" y="230.1" width="1.6" height="15.7" fill="#3bc43b"/>
<line x1="619.20" y1="278" x2="619.20" y2="279.8" stroke="#a0a0a0" stroke-width="0.6"/>
<text x="619.20" y="284.60" font-size="4" fill="#8c8c8c" font-weight="normal" text-anchor="middle"  textLength="16.5" lengthAdjust="spacingAndGlyphs">12:44:00</text>
<line x1="638.00" y1="278" x2="638.00" y2="279.8" stroke="#a0a0a0" stroke-width="0.6"/>
<text x="638.00" y="284.60" font-size="4" fill="#8c8c8c" font-weight="normal" text-anchor="middle"  textLength="16.5" lengthAdjust="spacingAndGlyphs">12:46:00</text>
<line x1="657.70" y1="278" x2="657.70" y2="279.8" stroke="#a0a0a0" stroke-width="0.6"/>
<text x="657.70" y="284.60" font-size="4" fill="#8c8c8c" font-weight="normal" text-anchor="middle"  textLength="16.5" lengthAdjust="spacingAndGlyphs">12:48:00</text>
<line x1="677.30" y1="278" x2="677.30" y2="279.8" stroke="#a0a0a0" stroke-width="0.6"/>
<text x="677.30" y="284.60" font-size="4" fill="#8c8c8c" font-weight="normal" text-anchor="middle"  textLength="16.5" lengthAdjust="spacingAndGlyphs">12:50:00</text>
<line x1="695.80" y1="278" x2="695.80" y2="279.8" stroke="#a0a0a0" stroke-width="0.6"/>
<text x="695.80" y="284.60" font-size="4" fill="#8c8c8c" font-weight="normal" text-anchor="middle"  textLength="16.5" lengthAdjust="spacingAndGlyphs">12:52:00</text>
<line x1="715.20" y1="278" x2="715.20" y2="279.8" stroke="#a0a0a0" stroke-width="0.6"/>
<text x="715.20" y="284.60" font-size="4" fill="#8c8c8c" font-weight="normal" text-anchor="middle"  textLength="16.5" lengthAdjust="spacingAndGlyphs">12:54:00</text>
<line x1="734.30" y1="278" x2="734.30" y2="279.8" stroke="#a0a0a0" stroke-width="0.6"/>
<text x="734.30" y="284.60" font-size="4" fill="#8c8c8c" font-weight="normal" text-anchor="middle"  textLength="16.5" lengthAdjust="spacingAndGlyphs">12:56:00</text>
<text x="653.20" y="291.96" font-size="4.6" fill="#b8b8b8" font-weight="bold" text-anchor="start"  textLength="57.6" lengthAdjust="spacingAndGlyphs">@timestamp per 5 seconds</text>
<text x="594.90" y="241.40" font-size="4.4" fill="#b8b8b8" font-weight="bold" text-anchor="middle" transform="rotate(-90 594.90 241.40)" dy="1.58" textLength="13.0" lengthAdjust="spacingAndGlyphs">Count</text>
<circle cx="757.8" cy="206.6" r="2.1" fill="none" stroke="#8a8a8a" stroke-width="0.7"/>
<line x1="757.8" y1="205.6" x2="757.8" y2="207.2" stroke="#8a8a8a" stroke-width="0.5"/>
<circle cx="765.1" cy="205.8" r="2.05" fill="#d040c8"/>
<text x="768.10" y="207.38" font-size="4.4" fill="#a5a5a5" font-weight="normal" text-anchor="start"  textLength="7.5" lengthAdjust="spacingAndGlyphs">200</text>
<circle cx="765.1" cy="212.6" r="2.05" fill="#3bd23b"/>
<text x="768.10" y="214.18" font-size="4.4" fill="#a5a5a5" font-weight="normal" text-anchor="start"  textLength="7.5" lengthAdjust="spacingAndGlyphs">206</text>
<circle cx="765.1" cy="219.4" r="2.05" fill="#e0a040"/>
<text x="768.10" y="220.98" font-size="4.4" fill="#a5a5a5" font-weight="normal" text-anchor="start"  textLength="7.5" lengthAdjust="spacingAndGlyphs">404</text>
<path d="M906.30,208.50 A40.5,40.5 0 1 1 869.87,231.30 L879.95,236.19 A29.3,29.3 0 1 0 906.30,219.70 Z" fill="#7b40c6" stroke="#222" stroke-width="0.6"/>
<path d="M869.87,231.30 A40.5,40.5 0 0 1 905.54,208.51 L905.75,219.71 A29.3,29.3 0 0 0 879.95,236.19 Z" fill="#c7447e" stroke="#222" stroke-width="0.6"/>
<path d="M905.54,208.51 A40.5,40.5 0 0 1 906.30,208.50 L906.30,219.70 A29.3,29.3 0 0 0 905.75,219.71 Z" fill="#2ecc71" stroke="#222" stroke-width="0.6"/>
<circle cx="990.5" cy="206.6" r="2.1" fill="none" stroke="#8a8a8a" stroke-width="0.7"/>
<line x1="990.5" y1="205.6" x2="990.5" y2="207.2" stroke="#8a8a8a" stroke-width="0.5"/>
<circle cx="997.8" cy="205.8" r="2.05" fill="#7b40c6"/>
<text x="1000.80" y="207.31" font-size="4.2" fill="#a5a5a5" font-weight="normal" text-anchor="start"  textLength="45.4" lengthAdjust="spacingAndGlyphs">"aws-cli/2.0.59 Pytho...</text>
<circle cx="997.8" cy="212.6" r="2.05" fill="#c7447e"/>
<text x="1000.80" y="214.11" font-size="4.2" fill="#a5a5a5" font-weight="normal" text-anchor="start"  textLength="45.4" lengthAdjust="spacingAndGlyphs">"aws-sdk-java/1.9.40 ...</text>
<circle cx="997.8" cy="219.4" r="2.05" fill="#2ecc71"/>
<text x="1000.80" y="220.91" font-size="4.2" fill="#a5a5a5" font-weight="normal" text-anchor="start"  textLength="45.4" lengthAdjust="spacingAndGlyphs">"aws-sdk-java/1.9.0 Li...</text>
<rect x="485" y="138" width="84" height="22" fill="#999" filter="url(#blur)"/>
<rect x="484.4" y="135.7" width="82" height="23" fill="#c00000"/>
<text x="525.35" y="152.20" font-size="12.5" fill="#ffffff" font-weight="bold" text-anchor="middle"  textLength="19.5" lengthAdjust="spacingAndGlyphs" stroke="#ffffff" stroke-width="0.2">ELK</text>
<path d="M489,158.8 L489,170.2 L557,170.2 M489,176.2 L489,228 L562,228 L562,158.8" fill="none" stroke="#2a2a2a" stroke-width="1.3"/>
<polyline points="499.30,216.30 510.20,199.00 522.70,204.90 528.10,187.00 540.80,201.90 551.40,181.90" fill="none" stroke="#2a2a2a" stroke-width="1.25" opacity="1"/>
<circle cx="499.3" cy="216.3" r="2.7" fill="#fff" stroke="#2a2a2a" stroke-width="1.15"/>
<circle cx="510.2" cy="199" r="2.7" fill="#fff" stroke="#2a2a2a" stroke-width="1.15"/>
<circle cx="522.7" cy="204.9" r="2.7" fill="#fff" stroke="#2a2a2a" stroke-width="1.15"/>
<circle cx="528.1" cy="187" r="2.7" fill="#fff" stroke="#2a2a2a" stroke-width="1.15"/>
<circle cx="540.8" cy="201.9" r="2.7" fill="#fff" stroke="#2a2a2a" stroke-width="1.15"/>
<circle cx="551.4" cy="181.9" r="2.7" fill="#fff" stroke="#2a2a2a" stroke-width="1.15"/>
<text x="517.60" y="249.50" font-size="11.5" fill="#22b14c" font-weight="bold" text-anchor="middle"  textLength="46" lengthAdjust="spacingAndGlyphs" stroke="#22b14c" stroke-width="0.1">遥测数据</text>
<line x1="523.9" y1="228" x2="523.9" y2="309" stroke="#505050" stroke-width="1.1"/>
<line x1="267" y1="337.5" x2="453.8" y2="338.3" stroke="#444" stroke-width="1.1"/>
<line x1="618.2" y1="339.1" x2="797" y2="337.3" stroke="#444" stroke-width="1.1"/>
<rect x="16.60" y="363.40" width="329.60" height="141.00" rx="6" fill="#eef6f6" stroke="#555" stroke-width="1.3" stroke-dasharray="4.3 3"/>
<rect x="102.50" y="313.00" width="164.50" height="50.00" rx="3" fill="#f1f1f1" stroke="#555" stroke-width="1.3" stroke-dasharray="4.3 3"/>
<text x="185.00" y="324.20" font-size="9.5" fill="#444" font-weight="normal" text-anchor="middle"  textLength="45" lengthAdjust="spacingAndGlyphs">核心交换区</text>
<rect x="133.70" y="325.80" width="28.4" height="28.4" rx="3.6" fill="#0ec3f4" stroke="#0aa9dc" stroke-width="0.7"/>
<line x1="147.90" y1="340.00" x2="158.54" y2="340.00" stroke="#fff" stroke-width="1.7"/>
<polygon points="160.14,340.00 156.14,343.40 156.14,336.60" fill="#fff"/>
<line x1="147.90" y1="340.00" x2="155.43" y2="347.53" stroke="#fff" stroke-width="1.7"/>
<polygon points="156.56,348.66 151.04,348.23 156.13,343.14" fill="#fff"/>
<line x1="147.90" y1="340.00" x2="147.90" y2="350.64" stroke="#fff" stroke-width="1.7"/>
<polygon points="147.90,352.24 144.50,348.24 151.30,348.24" fill="#fff"/>
<line x1="147.90" y1="340.00" x2="140.37" y2="347.53" stroke="#fff" stroke-width="1.7"/>
<polygon points="139.24,348.66 139.67,343.14 144.76,348.23" fill="#fff"/>
<line x1="147.90" y1="340.00" x2="137.26" y2="340.00" stroke="#fff" stroke-width="1.7"/>
<polygon points="135.66,340.00 139.66,336.60 139.66,343.40" fill="#fff"/>
<line x1="147.90" y1="340.00" x2="140.37" y2="332.47" stroke="#fff" stroke-width="1.7"/>
<polygon points="139.24,331.34 144.76,331.77 139.67,336.86" fill="#fff"/>
<line x1="147.90" y1="340.00" x2="147.90" y2="329.36" stroke="#fff" stroke-width="1.7"/>
<polygon points="147.90,327.76 151.30,331.76 144.50,331.76" fill="#fff"/>
<line x1="147.90" y1="340.00" x2="155.43" y2="332.47" stroke="#fff" stroke-width="1.7"/>
<polygon points="156.56,331.34 156.13,336.86 151.04,331.77" fill="#fff"/>
<circle cx="147.90" cy="340.00" r="3.05" fill="#f5525f"/>
<rect x="205.80" y="326.30" width="28.4" height="28.4" rx="3.6" fill="#0ec3f4" stroke="#0aa9dc" stroke-width="0.7"/>
<line x1="220.00" y1="340.50" x2="230.64" y2="340.50" stroke="#fff" stroke-width="1.7"/>
<polygon points="232.24,340.50 228.24,343.90 228.24,337.10" fill="#fff"/>
<line x1="220.00" y1="340.50" x2="227.53" y2="348.03" stroke="#fff" stroke-width="1.7"/>
<polygon points="228.66,349.16 223.14,348.73 228.23,343.64" fill="#fff"/>
<line x1="220.00" y1="340.50" x2="220.00" y2="351.14" stroke="#fff" stroke-width="1.7"/>
<polygon points="220.00,352.74 216.60,348.74 223.40,348.74" fill="#fff"/>
<line x1="220.00" y1="340.50" x2="212.47" y2="348.03" stroke="#fff" stroke-width="1.7"/>
<polygon points="211.34,349.16 211.77,343.64 216.86,348.73" fill="#fff"/>
<line x1="220.00" y1="340.50" x2="209.36" y2="340.50" stroke="#fff" stroke-width="1.7"/>
<polygon points="207.76,340.50 211.76,337.10 211.76,343.90" fill="#fff"/>
<line x1="220.00" y1="340.50" x2="212.47" y2="332.97" stroke="#fff" stroke-width="1.7"/>
<polygon points="211.34,331.84 216.86,332.27 211.77,337.36" fill="#fff"/>
<line x1="220.00" y1="340.50" x2="220.00" y2="329.86" stroke="#fff" stroke-width="1.7"/>
<polygon points="220.00,328.26 223.40,332.26 216.60,332.26" fill="#fff"/>
<line x1="220.00" y1="340.50" x2="227.53" y2="332.97" stroke="#fff" stroke-width="1.7"/>
<polygon points="228.66,331.84 228.23,337.36 223.14,332.27" fill="#fff"/>
<circle cx="220.00" cy="340.50" r="3.05" fill="#f5525f"/>
<rect x="35.50" y="372.00" width="299.60" height="46.70" rx="5" fill="#7ac3f0" stroke="#26384a" stroke-width="1.1" stroke-dasharray="0.9 0.9"/>
<line x1="147.90" y1="363.00" x2="147.90" y2="380.20" stroke="#333" stroke-width="1.2"/>
<line x1="220.65" y1="363.00" x2="220.65" y2="380.20" stroke="#333" stroke-width="1.2"/>
<line x1="100.20" y1="393.60" x2="138.10" y2="393.60" stroke="#333" stroke-width="1.2"/>
<line x1="230.80" y1="393.60" x2="262.30" y2="393.60" stroke="#333" stroke-width="1.2"/>
<line x1="157.70" y1="393.60" x2="210.50" y2="393.60" stroke="#333" stroke-width="1.2" stroke-dasharray="2.5 1.8"/>
<line x1="147.90" y1="409.20" x2="121.90" y2="445.60" stroke="#333" stroke-width="1"/>
<line x1="147.90" y1="409.20" x2="260.00" y2="445.60" stroke="#333" stroke-width="1"/>
<line x1="220.65" y1="409.20" x2="121.90" y2="445.60" stroke="#333" stroke-width="1"/>
<line x1="220.65" y1="409.20" x2="260.00" y2="445.60" stroke="#333" stroke-width="1"/>
<polygon points="138.40,383.40 140.10,380.50 155.70,380.50 157.40,383.40" fill="#b8daf6"/>
<rect x="138.10" y="383.40" width="19.60" height="25.80" rx="0.8" fill="url(#swg)"/>
<rect x="140.60" y="384.80" width="14.60" height="1.1" fill="#dbeeff"/>
<rect x="140.10" y="384.50" width="3" height="1.7" fill="#fff"/>
<rect x="152.70" y="384.50" width="3" height="1.7" fill="#fff"/>
<rect x="140.60" y="389.00" width="14.60" height="1.1" fill="#dbeeff"/>
<rect x="140.10" y="388.70" width="3" height="1.7" fill="#fff"/>
<rect x="152.70" y="388.70" width="3" height="1.7" fill="#fff"/>
<rect x="138.10" y="391.70" width="19.60" height="0.6" fill="#2f78bf" opacity="0.6"/>
<line x1="147.90" y1="400.20" x2="154.50" y2="400.20" stroke="#fff" stroke-width="1.2"/>
<polygon points="155.10,400.20 151.90,402.20 151.90,398.20" fill="#fff"/>
<line x1="147.90" y1="400.20" x2="152.57" y2="404.87" stroke="#fff" stroke-width="1.2"/>
<polygon points="152.99,405.29 149.31,404.44 152.14,401.61" fill="#fff"/>
<line x1="147.90" y1="400.20" x2="147.90" y2="406.80" stroke="#fff" stroke-width="1.2"/>
<polygon points="147.90,407.40 145.90,404.20 149.90,404.20" fill="#fff"/>
<line x1="147.90" y1="400.20" x2="143.23" y2="404.87" stroke="#fff" stroke-width="1.2"/>
<polygon points="142.81,405.29 143.66,401.61 146.49,404.44" fill="#fff"/>
<line x1="147.90" y1="400.20" x2="141.30" y2="400.20" stroke="#fff" stroke-width="1.2"/>
<polygon points="140.70,400.20 143.90,398.20 143.90,402.20" fill="#fff"/>
<line x1="147.90" y1="400.20" x2="143.23" y2="395.53" stroke="#fff" stroke-width="1.2"/>
<polygon points="142.81,395.11 146.49,395.96 143.66,398.79" fill="#fff"/>
<line x1="147.90" y1="400.20" x2="147.90" y2="393.60" stroke="#fff" stroke-width="1.2"/>
<polygon points="147.90,393.00 149.90,396.20 145.90,396.20" fill="#fff"/>
<line x1="147.90" y1="400.20" x2="152.57" y2="395.53" stroke="#fff" stroke-width="1.2"/>
<polygon points="152.99,395.11 152.14,398.79 149.31,395.96" fill="#fff"/>
<circle cx="147.90" cy="400.20" r="4.6" fill="none" stroke="#fff" stroke-width="0.8" opacity="0.7"/>
<rect x="145.10" y="397.40" width="5.6" height="5.6" transform="rotate(45 147.90 400.20)" fill="#fff"/>
<polygon points="210.80,383.40 212.50,380.50 228.80,380.50 230.50,383.40" fill="#b8daf6"/>
<rect x="210.50" y="383.40" width="20.30" height="25.80" rx="0.8" fill="url(#swg)"/>
<rect x="213.00" y="384.80" width="15.30" height="1.1" fill="#dbeeff"/>
<rect x="212.50" y="384.50" width="3" height="1.7" fill="#fff"/>
<rect x="225.80" y="384.50" width="3" height="1.7" fill="#fff"/>
<rect x="213.00" y="389.00" width="15.30" height="1.1" fill="#dbeeff"/>
<rect x="212.50" y="388.70" width="3" height="1.7" fill="#fff"/>
<rect x="225.80" y="388.70" width="3" height="1.7" fill="#fff"/>
<rect x="210.50" y="391.70" width="20.30" height="0.6" fill="#2f78bf" opacity="0.6"/>
<line x1="220.65" y1="400.20" x2="227.25" y2="400.20" stroke="#fff" stroke-width="1.2"/>
<polygon points="227.85,400.20 224.65,402.20 224.65,398.20" fill="#fff"/>
<line x1="220.65" y1="400.20" x2="225.32" y2="404.87" stroke="#fff" stroke-width="1.2"/>
<polygon points="225.74,405.29 222.06,404.44 224.89,401.61" fill="#fff"/>
<line x1="220.65" y1="400.20" x2="220.65" y2="406.80" stroke="#fff" stroke-width="1.2"/>
<polygon points="220.65,407.40 218.65,404.20 222.65,404.20" fill="#fff"/>
<line x1="220.65" y1="400.20" x2="215.98" y2="404.87" stroke="#fff" stroke-width="1.2"/>
<polygon points="215.56,405.29 216.41,401.61 219.24,404.44" fill="#fff"/>
<line x1="220.65" y1="400.20" x2="214.05" y2="400.20" stroke="#fff" stroke-width="1.2"/>
<polygon points="213.45,400.20 216.65,398.20 216.65,402.20" fill="#fff"/>
<line x1="220.65" y1="400.20" x2="215.98" y2="395.53" stroke="#fff" stroke-width="1.2"/>
<polygon points="215.56,395.11 219.24,395.96 216.41,398.79" fill="#fff"/>
<line x1="220.65" y1="400.20" x2="220.65" y2="393.60" stroke="#fff" stroke-width="1.2"/>
<polygon points="220.65,393.00 222.65,396.20 218.65,396.20" fill="#fff"/>
<line x1="220.65" y1="400.20" x2="225.32" y2="395.53" stroke="#fff" stroke-width="1.2"/>
<polygon points="225.74,395.11 224.89,398.79 222.06,395.96" fill="#fff"/>
<circle cx="220.65" cy="400.20" r="4.6" fill="none" stroke="#fff" stroke-width="0.8" opacity="0.7"/>
<rect x="217.85" y="397.40" width="5.6" height="5.6" transform="rotate(45 220.65 400.20)" fill="#fff"/>
<rect x="48.90" y="381.00" width="19.10" height="19.00" fill="#f4f4f4"/>
<g transform="rotate(-27 58.65 390.80)">
<ellipse cx="58.65" cy="390.80" rx="8.3" ry="4.1" fill="none" stroke="#ee1111" stroke-width="1.9"/>
<ellipse cx="58.05" cy="390.60" rx="4.6" ry="2.1" fill="#ee1111"/>
<path d="M53.65,391.40 Q58.65,390.20 63.15,391.20" fill="none" stroke="#f4d0d0" stroke-width="0.7"/>
</g>
<rect x="68.00" y="385.00" width="32.20" height="15" rx="0.8" fill="#1c1c1c"/>
<rect x="68.00" y="388.60" width="32.20" height="3.2" fill="#4a7a8c"/>
<rect x="68.80" y="395.30" width="1" height="1.1" fill="#8fb4c8"/>
<rect x="70.60" y="395.30" width="1" height="1.1" fill="#8fb4c8"/>
<rect x="72.40" y="395.30" width="1" height="1.1" fill="#8fb4c8"/>
<rect x="74.20" y="395.30" width="1" height="1.1" fill="#8fb4c8"/>
<rect x="76.00" y="395.30" width="1" height="1.1" fill="#8fb4c8"/>
<rect x="79.59" y="395.00" width="10.63" height="1.9" fill="#a6d4f0"/>
<circle cx="96.40" cy="396.00" r="2.1" fill="#8cc6ee"/>
<text x="76.00" y="412.20" font-size="11" fill="#262626" font-weight="bold" text-anchor="middle"  textLength="61" lengthAdjust="spacingAndGlyphs">应用负载均衡</text>
<rect x="262.30" y="379.80" width="19.40" height="19.40" fill="#f4f4f4"/>
<g transform="rotate(-27 272.20 389.80)">
<ellipse cx="272.20" cy="389.80" rx="8.3" ry="4.1" fill="none" stroke="#ee1111" stroke-width="1.9"/>
<ellipse cx="271.60" cy="389.60" rx="4.6" ry="2.1" fill="#ee1111"/>
<path d="M267.20,390.40 Q272.20,389.20 276.70,390.20" fill="none" stroke="#f4d0d0" stroke-width="0.7"/>
</g>
<rect x="281.70" y="384.20" width="31.70" height="15" rx="0.8" fill="#1c1c1c"/>
<rect x="281.70" y="387.80" width="31.70" height="3.2" fill="#4a7a8c"/>
<rect x="282.50" y="394.50" width="1" height="1.1" fill="#8fb4c8"/>
<rect x="284.30" y="394.50" width="1" height="1.1" fill="#8fb4c8"/>
<rect x="286.10" y="394.50" width="1" height="1.1" fill="#8fb4c8"/>
<rect x="287.90" y="394.50" width="1" height="1.1" fill="#8fb4c8"/>
<rect x="289.70" y="394.50" width="1" height="1.1" fill="#8fb4c8"/>
<rect x="293.11" y="394.20" width="10.46" height="1.9" fill="#a6d4f0"/>
<circle cx="309.60" cy="395.20" r="2.1" fill="#8cc6ee"/>
<text x="285.50" y="411.70" font-size="11" fill="#262626" font-weight="bold" text-anchor="middle"  textLength="61" lengthAdjust="spacingAndGlyphs">应用负载均衡</text>
<rect x="87.50" y="448.90" width="29.20" height="5.50" rx="2" fill="#f8f9f9" stroke="#858585" stroke-width="1.1"/>
<path d="M89.30,451.45 L92.20,451.45 M90.90,450.25 L92.20,451.45 L90.90,452.65" fill="none" stroke="#8a8a8a" stroke-width="0.7"/>
<line x1="107.30" y1="449.40" x2="107.30" y2="453.70" stroke="#777" stroke-width="1.0"/>
<line x1="110.70" y1="449.40" x2="110.70" y2="453.70" stroke="#999" stroke-width="0.7"/>
<line x1="113.70" y1="449.40" x2="113.70" y2="453.70" stroke="#999" stroke-width="0.7"/>
<rect x="87.50" y="455.00" width="29.20" height="5.50" rx="2" fill="#f8f9f9" stroke="#858585" stroke-width="1.1"/>
<path d="M89.30,457.55 L92.20,457.55 M90.90,456.35 L92.20,457.55 L90.90,458.75" fill="none" stroke="#8a8a8a" stroke-width="0.7"/>
<line x1="107.30" y1="455.50" x2="107.30" y2="459.80" stroke="#777" stroke-width="1.0"/>
<line x1="110.70" y1="455.50" x2="110.70" y2="459.80" stroke="#999" stroke-width="0.7"/>
<line x1="113.70" y1="455.50" x2="113.70" y2="459.80" stroke="#999" stroke-width="0.7"/>
<rect x="87.50" y="461.10" width="29.20" height="5.50" rx="2" fill="#f8f9f9" stroke="#858585" stroke-width="1.1"/>
<path d="M89.30,463.65 L92.20,463.65 M90.90,462.45 L92.20,463.65 L90.90,464.85" fill="none" stroke="#8a8a8a" stroke-width="0.7"/>
<line x1="107.30" y1="461.60" x2="107.30" y2="465.90" stroke="#777" stroke-width="1.0"/>
<line x1="110.70" y1="461.60" x2="110.70" y2="465.90" stroke="#999" stroke-width="0.7"/>
<line x1="113.70" y1="461.60" x2="113.70" y2="465.90" stroke="#999" stroke-width="0.7"/>
<rect x="123.60" y="448.90" width="29.10" height="5.50" rx="2" fill="#f8f9f9" stroke="#858585" stroke-width="1.1"/>
<path d="M125.40,451.45 L128.30,451.45 M127.00,450.25 L128.30,451.45 L127.00,452.65" fill="none" stroke="#8a8a8a" stroke-width="0.7"/>
<line x1="143.30" y1="449.40" x2="143.30" y2="453.70" stroke="#777" stroke-width="1.0"/>
<line x1="146.70" y1="449.40" x2="146.70" y2="453.70" stroke="#999" stroke-width="0.7"/>
<line x1="149.70" y1="449.40" x2="149.70" y2="453.70" stroke="#999" stroke-width="0.7"/>
<rect x="123.60" y="455.00" width="29.10" height="5.50" rx="2" fill="#f8f9f9" stroke="#858585" stroke-width="1.1"/>
<path d="M125.40,457.55 L128.30,457.55 M127.00,456.35 L128.30,457.55 L127.00,458.75" fill="none" stroke="#8a8a8a" stroke-width="0.7"/>
<line x1="143.30" y1="455.50" x2="143.30" y2="459.80" stroke="#777" stroke-width="1.0"/>
<line x1="146.70" y1="455.50" x2="146.70" y2="459.80" stroke="#999" stroke-width="0.7"/>
<line x1="149.70" y1="455.50" x2="149.70" y2="459.80" stroke="#999" stroke-width="0.7"/>
<rect x="123.60" y="461.10" width="29.10" height="5.50" rx="2" fill="#f8f9f9" stroke="#858585" stroke-width="1.1"/>
<path d="M125.40,463.65 L128.30,463.65 M127.00,462.45 L128.30,463.65 L127.00,464.85" fill="none" stroke="#8a8a8a" stroke-width="0.7"/>
<line x1="143.30" y1="461.60" x2="143.30" y2="465.90" stroke="#777" stroke-width="1.0"/>
<line x1="146.70" y1="461.60" x2="146.70" y2="465.90" stroke="#999" stroke-width="0.7"/>
<line x1="149.70" y1="461.60" x2="149.70" y2="465.90" stroke="#999" stroke-width="0.7"/>
<rect x="226.10" y="448.90" width="29.00" height="5.50" rx="2" fill="#f8f9f9" stroke="#858585" stroke-width="1.1"/>
<path d="M227.90,451.45 L230.80,451.45 M229.50,450.25 L230.80,451.45 L229.50,452.65" fill="none" stroke="#8a8a8a" stroke-width="0.7"/>
<line x1="245.70" y1="449.40" x2="245.70" y2="453.70" stroke="#777" stroke-width="1.0"/>
<line x1="249.10" y1="449.40" x2="249.10" y2="453.70" stroke="#999" stroke-width="0.7"/>
<line x1="252.10" y1="449.40" x2="252.10" y2="453.70" stroke="#999" stroke-width="0.7"/>
<rect x="226.10" y="455.00" width="29.00" height="5.50" rx="2" fill="#f8f9f9" stroke="#858585" stroke-width="1.1"/>
<path d="M227.90,457.55 L230.80,457.55 M229.50,456.35 L230.80,457.55 L229.50,458.75" fill="none" stroke="#8a8a8a" stroke-width="0.7"/>
<line x1="245.70" y1="455.50" x2="245.70" y2="459.80" stroke="#777" stroke-width="1.0"/>
<line x1="249.10" y1="455.50" x2="249.10" y2="459.80" stroke="#999" stroke-width="0.7"/>
<line x1="252.10" y1="455.50" x2="252.10" y2="459.80" stroke="#999" stroke-width="0.7"/>
<rect x="226.10" y="461.10" width="29.00" height="5.50" rx="2" fill="#f8f9f9" stroke="#858585" stroke-width="1.1"/>
<path d="M227.90,463.65 L230.80,463.65 M229.50,462.45 L230.80,463.65 L229.50,464.85" fill="none" stroke="#8a8a8a" stroke-width="0.7"/>
<line x1="245.70" y1="461.60" x2="245.70" y2="465.90" stroke="#777" stroke-width="1.0"/>
<line x1="249.10" y1="461.60" x2="249.10" y2="465.90" stroke="#999" stroke-width="0.7"/>
<line x1="252.10" y1="461.60" x2="252.10" y2="465.90" stroke="#999" stroke-width="0.7"/>
<rect x="262.30" y="448.90" width="28.80" height="5.50" rx="2" fill="#f8f9f9" stroke="#858585" stroke-width="1.1"/>
<path d="M264.10,451.45 L267.00,451.45 M265.70,450.25 L267.00,451.45 L265.70,452.65" fill="none" stroke="#8a8a8a" stroke-width="0.7"/>
<line x1="281.70" y1="449.40" x2="281.70" y2="453.70" stroke="#777" stroke-width="1.0"/>
<line x1="285.10" y1="449.40" x2="285.10" y2="453.70" stroke="#999" stroke-width="0.7"/>
<line x1="288.10" y1="449.40" x2="288.10" y2="453.70" stroke="#999" stroke-width="0.7"/>
<rect x="262.30" y="455.00" width="28.80" height="5.50" rx="2" fill="#f8f9f9" stroke="#858585" stroke-width="1.1"/>
<path d="M264.10,457.55 L267.00,457.55 M265.70,456.35 L267.00,457.55 L265.70,458.75" fill="none" stroke="#8a8a8a" stroke-width="0.7"/>
<line x1="281.70" y1="455.50" x2="281.70" y2="459.80" stroke="#777" stroke-width="1.0"/>
<line x1="285.10" y1="455.50" x2="285.10" y2="459.80" stroke="#999" stroke-width="0.7"/>
<line x1="288.10" y1="455.50" x2="288.10" y2="459.80" stroke="#999" stroke-width="0.7"/>
<rect x="262.30" y="461.10" width="28.80" height="5.50" rx="2" fill="#f8f9f9" stroke="#858585" stroke-width="1.1"/>
<path d="M264.10,463.65 L267.00,463.65 M265.70,462.45 L267.00,463.65 L265.70,464.85" fill="none" stroke="#8a8a8a" stroke-width="0.7"/>
<line x1="281.70" y1="461.60" x2="281.70" y2="465.90" stroke="#777" stroke-width="1.0"/>
<line x1="285.10" y1="461.60" x2="285.10" y2="465.90" stroke="#999" stroke-width="0.7"/>
<line x1="288.10" y1="461.60" x2="288.10" y2="465.90" stroke="#999" stroke-width="0.7"/>
<text x="91.15" y="481.00" font-size="11.5" fill="#242424" font-weight="bold" text-anchor="start"  textLength="17.5" lengthAdjust="spacingAndGlyphs" stroke="#242424" stroke-width="0.25">ECS</text>
<text x="109.00" y="481.00" font-size="11" fill="#242424" font-weight="bold" text-anchor="start"  textLength="30.6" lengthAdjust="spacingAndGlyphs" stroke="#242424" stroke-width="0.25">服务器</text>
<text x="231.25" y="481.00" font-size="11.5" fill="#242424" font-weight="bold" text-anchor="start"  textLength="17.5" lengthAdjust="spacingAndGlyphs" stroke="#242424" stroke-width="0.25">ECS</text>
<text x="249.10" y="481.00" font-size="11" fill="#242424" font-weight="bold" text-anchor="start"  textLength="30.6" lengthAdjust="spacingAndGlyphs" stroke="#242424" stroke-width="0.25">服务器</text>
<rect x="130.10" y="494.30" width="115.60" height="23.70" fill="#2e1c8e" stroke="#221a4a" stroke-width="0.8"/>
<text x="188.20" y="509.50" font-size="12.5" fill="#fff" font-weight="bold" text-anchor="middle"  textLength="54" lengthAdjust="spacingAndGlyphs" stroke="#fff" stroke-width="0.3">本部数据A</text>
<rect x="368.00" y="363.50" width="329.60" height="141.10" rx="6" fill="#eef6f6" stroke="#555" stroke-width="1.3" stroke-dasharray="4.3 3"/>
<rect x="453.80" y="312.60" width="164.40" height="50.60" rx="3" fill="#f1f1f1" stroke="#555" stroke-width="1.3" stroke-dasharray="4.3 3"/>
<text x="536.00" y="323.80" font-size="9.5" fill="#444" font-weight="normal" text-anchor="middle"  textLength="45" lengthAdjust="spacingAndGlyphs">核心交换区</text>
<rect x="485.30" y="325.70" width="28.4" height="28.4" rx="3.6" fill="#0ec3f4" stroke="#0aa9dc" stroke-width="0.7"/>
<line x1="499.50" y1="339.90" x2="510.14" y2="339.90" stroke="#fff" stroke-width="1.7"/>
<polygon points="511.74,339.90 507.74,343.30 507.74,336.50" fill="#fff"/>
<line x1="499.50" y1="339.90" x2="507.03" y2="347.43" stroke="#fff" stroke-width="1.7"/>
<polygon points="508.16,348.56 502.64,348.13 507.73,343.04" fill="#fff"/>
<line x1="499.50" y1="339.90" x2="499.50" y2="350.54" stroke="#fff" stroke-width="1.7"/>
<polygon points="499.50,352.14 496.10,348.14 502.90,348.14" fill="#fff"/>
<line x1="499.50" y1="339.90" x2="491.97" y2="347.43" stroke="#fff" stroke-width="1.7"/>
<polygon points="490.84,348.56 491.27,343.04 496.36,348.13" fill="#fff"/>
<line x1="499.50" y1="339.90" x2="488.86" y2="339.90" stroke="#fff" stroke-width="1.7"/>
<polygon points="487.26,339.90 491.26,336.50 491.26,343.30" fill="#fff"/>
<line x1="499.50" y1="339.90" x2="491.97" y2="332.37" stroke="#fff" stroke-width="1.7"/>
<polygon points="490.84,331.24 496.36,331.67 491.27,336.76" fill="#fff"/>
<line x1="499.50" y1="339.90" x2="499.50" y2="329.26" stroke="#fff" stroke-width="1.7"/>
<polygon points="499.50,327.66 502.90,331.66 496.10,331.66" fill="#fff"/>
<line x1="499.50" y1="339.90" x2="507.03" y2="332.37" stroke="#fff" stroke-width="1.7"/>
<polygon points="508.16,331.24 507.73,336.76 502.64,331.67" fill="#fff"/>
<circle cx="499.50" cy="339.90" r="3.05" fill="#f5525f"/>
<rect x="557.00" y="326.00" width="28.4" height="28.4" rx="3.6" fill="#0ec3f4" stroke="#0aa9dc" stroke-width="0.7"/>
<line x1="571.20" y1="340.20" x2="581.84" y2="340.20" stroke="#fff" stroke-width="1.7"/>
<polygon points="583.44,340.20 579.44,343.60 579.44,336.80" fill="#fff"/>
<line x1="571.20" y1="340.20" x2="578.73" y2="347.73" stroke="#fff" stroke-width="1.7"/>
<polygon points="579.86,348.86 574.34,348.43 579.43,343.34" fill="#fff"/>
<line x1="571.20" y1="340.20" x2="571.20" y2="350.84" stroke="#fff" stroke-width="1.7"/>
<polygon points="571.20,352.44 567.80,348.44 574.60,348.44" fill="#fff"/>
<line x1="571.20" y1="340.20" x2="563.67" y2="347.73" stroke="#fff" stroke-width="1.7"/>
<polygon points="562.54,348.86 562.97,343.34 568.06,348.43" fill="#fff"/>
<line x1="571.20" y1="340.20" x2="560.56" y2="340.20" stroke="#fff" stroke-width="1.7"/>
<polygon points="558.96,340.20 562.96,336.80 562.96,343.60" fill="#fff"/>
<line x1="571.20" y1="340.20" x2="563.67" y2="332.67" stroke="#fff" stroke-width="1.7"/>
<polygon points="562.54,331.54 568.06,331.97 562.97,337.06" fill="#fff"/>
<line x1="571.20" y1="340.20" x2="571.20" y2="329.56" stroke="#fff" stroke-width="1.7"/>
<polygon points="571.20,327.96 574.60,331.96 567.80,331.96" fill="#fff"/>
<line x1="571.20" y1="340.20" x2="578.73" y2="332.67" stroke="#fff" stroke-width="1.7"/>
<polygon points="579.86,331.54 579.43,337.06 574.34,331.97" fill="#fff"/>
<circle cx="571.20" cy="340.20" r="3.05" fill="#f5525f"/>
<rect x="386.50" y="371.80" width="299.80" height="46.70" rx="5" fill="#7ac3f0" stroke="#26384a" stroke-width="1.1" stroke-dasharray="0.9 0.9"/>
<line x1="499.65" y1="363.20" x2="499.65" y2="380.20" stroke="#333" stroke-width="1.2"/>
<line x1="571.35" y1="363.20" x2="571.35" y2="380.20" stroke="#333" stroke-width="1.2"/>
<line x1="452.00" y1="393.80" x2="489.30" y2="393.80" stroke="#333" stroke-width="1.2"/>
<line x1="581.70" y1="393.80" x2="615.20" y2="393.80" stroke="#333" stroke-width="1.2"/>
<line x1="510.00" y1="393.80" x2="561.00" y2="393.80" stroke="#333" stroke-width="1.2" stroke-dasharray="2.5 1.8"/>
<line x1="499.65" y1="409.70" x2="473.40" y2="445.50" stroke="#333" stroke-width="1"/>
<line x1="499.65" y1="409.70" x2="611.30" y2="445.50" stroke="#333" stroke-width="1"/>
<line x1="571.35" y1="409.70" x2="473.40" y2="445.50" stroke="#333" stroke-width="1"/>
<line x1="571.35" y1="409.70" x2="611.30" y2="445.50" stroke="#333" stroke-width="1"/>
<polygon points="489.60,383.40 491.30,380.50 508.00,380.50 509.70,383.40" fill="#b8daf6"/>
<rect x="489.30" y="383.40" width="20.70" height="26.30" rx="0.8" fill="url(#swg)"/>
<rect x="491.80" y="384.80" width="15.70" height="1.1" fill="#dbeeff"/>
<rect x="491.30" y="384.50" width="3" height="1.7" fill="#fff"/>
<rect x="505.00" y="384.50" width="3" height="1.7" fill="#fff"/>
<rect x="491.80" y="389.00" width="15.70" height="1.1" fill="#dbeeff"/>
<rect x="491.30" y="388.70" width="3" height="1.7" fill="#fff"/>
<rect x="505.00" y="388.70" width="3" height="1.7" fill="#fff"/>
<rect x="489.30" y="391.70" width="20.70" height="0.6" fill="#2f78bf" opacity="0.6"/>
<line x1="499.65" y1="400.20" x2="506.25" y2="400.20" stroke="#fff" stroke-width="1.2"/>
<polygon points="506.85,400.20 503.65,402.20 503.65,398.20" fill="#fff"/>
<line x1="499.65" y1="400.20" x2="504.32" y2="404.87" stroke="#fff" stroke-width="1.2"/>
<polygon points="504.74,405.29 501.06,404.44 503.89,401.61" fill="#fff"/>
<line x1="499.65" y1="400.20" x2="499.65" y2="406.80" stroke="#fff" stroke-width="1.2"/>
<polygon points="499.65,407.40 497.65,404.20 501.65,404.20" fill="#fff"/>
<line x1="499.65" y1="400.20" x2="494.98" y2="404.87" stroke="#fff" stroke-width="1.2"/>
<polygon points="494.56,405.29 495.41,401.61 498.24,404.44" fill="#fff"/>
<line x1="499.65" y1="400.20" x2="493.05" y2="400.20" stroke="#fff" stroke-width="1.2"/>
<polygon points="492.45,400.20 495.65,398.20 495.65,402.20" fill="#fff"/>
<line x1="499.65" y1="400.20" x2="494.98" y2="395.53" stroke="#fff" stroke-width="1.2"/>
<polygon points="494.56,395.11 498.24,395.96 495.41,398.79" fill="#fff"/>
<line x1="499.65" y1="400.20" x2="499.65" y2="393.60" stroke="#fff" stroke-width="1.2"/>
<polygon points="499.65,393.00 501.65,396.20 497.65,396.20" fill="#fff"/>
<line x1="499.65" y1="400.20" x2="504.32" y2="395.53" stroke="#fff" stroke-width="1.2"/>
<polygon points="504.74,395.11 503.89,398.79 501.06,395.96" fill="#fff"/>
<circle cx="499.65" cy="400.20" r="4.6" fill="none" stroke="#fff" stroke-width="0.8" opacity="0.7"/>
<rect x="496.85" y="397.40" width="5.6" height="5.6" transform="rotate(45 499.65 400.20)" fill="#fff"/>
<polygon points="561.30,383.40 563.00,380.50 579.70,380.50 581.40,383.40" fill="#b8daf6"/>
<rect x="561.00" y="383.40" width="20.70" height="26.30" rx="0.8" fill="url(#swg)"/>
<rect x="563.50" y="384.80" width="15.70" height="1.1" fill="#dbeeff"/>
<rect x="563.00" y="384.50" width="3" height="1.7" fill="#fff"/>
<rect x="576.70" y="384.50" width="3" height="1.7" fill="#fff"/>
<rect x="563.50" y="389.00" width="15.70" height="1.1" fill="#dbeeff"/>
<rect x="563.00" y="388.70" width="3" height="1.7" fill="#fff"/>
<rect x="576.70" y="388.70" width="3" height="1.7" fill="#fff"/>
<rect x="561.00" y="391.70" width="20.70" height="0.6" fill="#2f78bf" opacity="0.6"/>
<line x1="571.35" y1="400.20" x2="577.95" y2="400.20" stroke="#fff" stroke-width="1.2"/>
<polygon points="578.55,400.20 575.35,402.20 575.35,398.20" fill="#fff"/>
<line x1="571.35" y1="400.20" x2="576.02" y2="404.87" stroke="#fff" stroke-width="1.2"/>
<polygon points="576.44,405.29 572.76,404.44 575.59,401.61" fill="#fff"/>
<line x1="571.35" y1="400.20" x2="571.35" y2="406.80" stroke="#fff" stroke-width="1.2"/>
<polygon points="571.35,407.40 569.35,404.20 573.35,404.20" fill="#fff"/>
<line x1="571.35" y1="400.20" x2="566.68" y2="404.87" stroke="#fff" stroke-width="1.2"/>
<polygon points="566.26,405.29 567.11,401.61 569.94,404.44" fill="#fff"/>
<line x1="571.35" y1="400.20" x2="564.75" y2="400.20" stroke="#fff" stroke-width="1.2"/>
<polygon points="564.15,400.20 567.35,398.20 567.35,402.20" fill="#fff"/>
<line x1="571.35" y1="400.20" x2="566.68" y2="395.53" stroke="#fff" stroke-width="1.2"/>
<polygon points="566.26,395.11 569.94,395.96 567.11,398.79" fill="#fff"/>
<line x1="571.35" y1="400.20" x2="571.35" y2="393.60" stroke="#fff" stroke-width="1.2"/>
<polygon points="571.35,393.00 573.35,396.20 569.35,396.20" fill="#fff"/>
<line x1="571.35" y1="400.20" x2="576.02" y2="395.53" stroke="#fff" stroke-width="1.2"/>
<polygon points="576.44,395.11 575.59,398.79 572.76,395.96" fill="#fff"/>
<circle cx="571.35" cy="400.20" r="4.6" fill="none" stroke="#fff" stroke-width="0.8" opacity="0.7"/>
<rect x="568.55" y="397.40" width="5.6" height="5.6" transform="rotate(45 571.35 400.20)" fill="#fff"/>
<rect x="400.80" y="380.20" width="19.20" height="18.80" fill="#f4f4f4"/>
<g transform="rotate(-27 410.60 389.90)">
<ellipse cx="410.60" cy="389.90" rx="8.3" ry="4.1" fill="none" stroke="#ee1111" stroke-width="1.9"/>
<ellipse cx="410.00" cy="389.70" rx="4.6" ry="2.1" fill="#ee1111"/>
<path d="M405.60,390.50 Q410.60,389.30 415.10,390.30" fill="none" stroke="#f4d0d0" stroke-width="0.7"/>
</g>
<rect x="420.00" y="384.00" width="32.00" height="15" rx="0.8" fill="#1c1c1c"/>
<rect x="420.00" y="387.60" width="32.00" height="3.2" fill="#4a7a8c"/>
<rect x="420.80" y="394.30" width="1" height="1.1" fill="#8fb4c8"/>
<rect x="422.60" y="394.30" width="1" height="1.1" fill="#8fb4c8"/>
<rect x="424.40" y="394.30" width="1" height="1.1" fill="#8fb4c8"/>
<rect x="426.20" y="394.30" width="1" height="1.1" fill="#8fb4c8"/>
<rect x="428.00" y="394.30" width="1" height="1.1" fill="#8fb4c8"/>
<rect x="431.52" y="394.00" width="10.56" height="1.9" fill="#a6d4f0"/>
<circle cx="448.20" cy="395.00" r="2.1" fill="#8cc6ee"/>
<text x="424.40" y="412.60" font-size="11" fill="#262626" font-weight="bold" text-anchor="middle"  textLength="61" lengthAdjust="spacingAndGlyphs">应用负载均衡</text>
<rect x="615.20" y="380.70" width="19.70" height="18.30" fill="#f4f4f4"/>
<g transform="rotate(-27 625.25 390.15)">
<ellipse cx="625.25" cy="390.15" rx="8.3" ry="4.1" fill="none" stroke="#ee1111" stroke-width="1.9"/>
<ellipse cx="624.65" cy="389.95" rx="4.6" ry="2.1" fill="#ee1111"/>
<path d="M620.25,390.75 Q625.25,389.55 629.75,390.55" fill="none" stroke="#f4d0d0" stroke-width="0.7"/>
</g>
<rect x="634.90" y="384.00" width="32.50" height="15" rx="0.8" fill="#1c1c1c"/>
<rect x="634.90" y="387.60" width="32.50" height="3.2" fill="#4a7a8c"/>
<rect x="635.70" y="394.30" width="1" height="1.1" fill="#8fb4c8"/>
<rect x="637.50" y="394.30" width="1" height="1.1" fill="#8fb4c8"/>
<rect x="639.30" y="394.30" width="1" height="1.1" fill="#8fb4c8"/>
<rect x="641.10" y="394.30" width="1" height="1.1" fill="#8fb4c8"/>
<rect x="642.90" y="394.30" width="1" height="1.1" fill="#8fb4c8"/>
<rect x="646.60" y="394.00" width="10.72" height="1.9" fill="#a6d4f0"/>
<circle cx="663.60" cy="395.00" r="2.1" fill="#8cc6ee"/>
<text x="638.30" y="412.60" font-size="11" fill="#262626" font-weight="bold" text-anchor="middle"  textLength="61" lengthAdjust="spacingAndGlyphs">应用负载均衡</text>
<rect x="438.90" y="448.90" width="28.80" height="5.43" rx="2" fill="#f8f9f9" stroke="#858585" stroke-width="1.1"/>
<path d="M440.70,451.42 L443.60,451.42 M442.30,450.22 L443.60,451.42 L442.30,452.62" fill="none" stroke="#8a8a8a" stroke-width="0.7"/>
<line x1="458.30" y1="449.40" x2="458.30" y2="453.63" stroke="#777" stroke-width="1.0"/>
<line x1="461.70" y1="449.40" x2="461.70" y2="453.63" stroke="#999" stroke-width="0.7"/>
<line x1="464.70" y1="449.40" x2="464.70" y2="453.63" stroke="#999" stroke-width="0.7"/>
<rect x="438.90" y="454.93" width="28.80" height="5.43" rx="2" fill="#f8f9f9" stroke="#858585" stroke-width="1.1"/>
<path d="M440.70,457.45 L443.60,457.45 M442.30,456.25 L443.60,457.45 L442.30,458.65" fill="none" stroke="#8a8a8a" stroke-width="0.7"/>
<line x1="458.30" y1="455.43" x2="458.30" y2="459.67" stroke="#777" stroke-width="1.0"/>
<line x1="461.70" y1="455.43" x2="461.70" y2="459.67" stroke="#999" stroke-width="0.7"/>
<line x1="464.70" y1="455.43" x2="464.70" y2="459.67" stroke="#999" stroke-width="0.7"/>
<rect x="438.90" y="460.97" width="28.80" height="5.43" rx="2" fill="#f8f9f9" stroke="#858585" stroke-width="1.1"/>
<path d="M440.70,463.48 L443.60,463.48 M442.30,462.28 L443.60,463.48 L442.30,464.68" fill="none" stroke="#8a8a8a" stroke-width="0.7"/>
<line x1="458.30" y1="461.47" x2="458.30" y2="465.70" stroke="#777" stroke-width="1.0"/>
<line x1="461.70" y1="461.47" x2="461.70" y2="465.70" stroke="#999" stroke-width="0.7"/>
<line x1="464.70" y1="461.47" x2="464.70" y2="465.70" stroke="#999" stroke-width="0.7"/>
<rect x="475.70" y="448.90" width="28.30" height="5.43" rx="2" fill="#f8f9f9" stroke="#858585" stroke-width="1.1"/>
<path d="M477.50,451.42 L480.40,451.42 M479.10,450.22 L480.40,451.42 L479.10,452.62" fill="none" stroke="#8a8a8a" stroke-width="0.7"/>
<line x1="494.60" y1="449.40" x2="494.60" y2="453.63" stroke="#777" stroke-width="1.0"/>
<line x1="498.00" y1="449.40" x2="498.00" y2="453.63" stroke="#999" stroke-width="0.7"/>
<line x1="501.00" y1="449.40" x2="501.00" y2="453.63" stroke="#999" stroke-width="0.7"/>
<rect x="475.70" y="454.93" width="28.30" height="5.43" rx="2" fill="#f8f9f9" stroke="#858585" stroke-width="1.1"/>
<path d="M477.50,457.45 L480.40,457.45 M479.10,456.25 L480.40,457.45 L479.10,458.65" fill="none" stroke="#8a8a8a" stroke-width="0.7"/>
<line x1="494.60" y1="455.43" x2="494.60" y2="459.67" stroke="#777" stroke-width="1.0"/>
<line x1="498.00" y1="455.43" x2="498.00" y2="459.67" stroke="#999" stroke-width="0.7"/>
<line x1="501.00" y1="455.43" x2="501.00" y2="459.67" stroke="#999" stroke-width="0.7"/>
<rect x="475.70" y="460.97" width="28.30" height="5.43" rx="2" fill="#f8f9f9" stroke="#858585" stroke-width="1.1"/>
<path d="M477.50,463.48 L480.40,463.48 M479.10,462.28 L480.40,463.48 L479.10,464.68" fill="none" stroke="#8a8a8a" stroke-width="0.7"/>
<line x1="494.60" y1="461.47" x2="494.60" y2="465.70" stroke="#777" stroke-width="1.0"/>
<line x1="498.00" y1="461.47" x2="498.00" y2="465.70" stroke="#999" stroke-width="0.7"/>
<line x1="501.00" y1="461.47" x2="501.00" y2="465.70" stroke="#999" stroke-width="0.7"/>
<rect x="577.50" y="448.90" width="28.60" height="5.43" rx="2" fill="#f8f9f9" stroke="#858585" stroke-width="1.1"/>
<path d="M579.30,451.42 L582.20,451.42 M580.90,450.22 L582.20,451.42 L580.90,452.62" fill="none" stroke="#8a8a8a" stroke-width="0.7"/>
<line x1="596.70" y1="449.40" x2="596.70" y2="453.63" stroke="#777" stroke-width="1.0"/>
<line x1="600.10" y1="449.40" x2="600.10" y2="453.63" stroke="#999" stroke-width="0.7"/>
<line x1="603.10" y1="449.40" x2="603.10" y2="453.63" stroke="#999" stroke-width="0.7"/>
<rect x="577.50" y="454.93" width="28.60" height="5.43" rx="2" fill="#f8f9f9" stroke="#858585" stroke-width="1.1"/>
<path d="M579.30,457.45 L582.20,457.45 M580.90,456.25 L582.20,457.45 L580.90,458.65" fill="none" stroke="#8a8a8a" stroke-width="0.7"/>
<line x1="596.70" y1="455.43" x2="596.70" y2="459.67" stroke="#777" stroke-width="1.0"/>
<line x1="600.10" y1="455.43" x2="600.10" y2="459.67" stroke="#999" stroke-width="0.7"/>
<line x1="603.10" y1="455.43" x2="603.10" y2="459.67" stroke="#999" stroke-width="0.7"/>
<rect x="577.50" y="460.97" width="28.60" height="5.43" rx="2" fill="#f8f9f9" stroke="#858585" stroke-width="1.1"/>
<path d="M579.30,463.48 L582.20,463.48 M580.90,462.28 L582.20,463.48 L580.90,464.68" fill="none" stroke="#8a8a8a" stroke-width="0.7"/>
<line x1="596.70" y1="461.47" x2="596.70" y2="465.70" stroke="#777" stroke-width="1.0"/>
<line x1="600.10" y1="461.47" x2="600.10" y2="465.70" stroke="#999" stroke-width="0.7"/>
<line x1="603.10" y1="461.47" x2="603.10" y2="465.70" stroke="#999" stroke-width="0.7"/>
<rect x="613.90" y="448.90" width="28.60" height="5.43" rx="2" fill="#f8f9f9" stroke="#858585" stroke-width="1.1"/>
<path d="M615.70,451.42 L618.60,451.42 M617.30,450.22 L618.60,451.42 L617.30,452.62" fill="none" stroke="#8a8a8a" stroke-width="0.7"/>
<line x1="633.10" y1="449.40" x2="633.10" y2="453.63" stroke="#777" stroke-width="1.0"/>
<line x1="636.50" y1="449.40" x2="636.50" y2="453.63" stroke="#999" stroke-width="0.7"/>
<line x1="639.50" y1="449.40" x2="639.50" y2="453.63" stroke="#999" stroke-width="0.7"/>
<rect x="613.90" y="454.93" width="28.60" height="5.43" rx="2" fill="#f8f9f9" stroke="#858585" stroke-width="1.1"/>
<path d="M615.70,457.45 L618.60,457.45 M617.30,456.25 L618.60,457.45 L617.30,458.65" fill="none" stroke="#8a8a8a" stroke-width="0.7"/>
<line x1="633.10" y1="455.43" x2="633.10" y2="459.67" stroke="#777" stroke-width="1.0"/>
<line x1="636.50" y1="455.43" x2="636.50" y2="459.67" stroke="#999" stroke-width="0.7"/>
<line x1="639.50" y1="455.43" x2="639.50" y2="459.67" stroke="#999" stroke-width="0.7"/>
<rect x="613.90" y="460.97" width="28.60" height="5.43" rx="2" fill="#f8f9f9" stroke="#858585" stroke-width="1.1"/>
<path d="M615.70,463.48 L618.60,463.48 M617.30,462.28 L618.60,463.48 L617.30,464.68" fill="none" stroke="#8a8a8a" stroke-width="0.7"/>
<line x1="633.10" y1="461.47" x2="633.10" y2="465.70" stroke="#777" stroke-width="1.0"/>
<line x1="636.50" y1="461.47" x2="636.50" y2="465.70" stroke="#999" stroke-width="0.7"/>
<line x1="639.50" y1="461.47" x2="639.50" y2="465.70" stroke="#999" stroke-width="0.7"/>
<text x="445.75" y="480.40" font-size="11.5" fill="#242424" font-weight="bold" text-anchor="start"  textLength="17.5" lengthAdjust="spacingAndGlyphs" stroke="#242424" stroke-width="0.25">ECS</text>
<text x="463.60" y="480.40" font-size="11" fill="#242424" font-weight="bold" text-anchor="start"  textLength="30.6" lengthAdjust="spacingAndGlyphs" stroke="#242424" stroke-width="0.25">服务器</text>
<text x="581.75" y="480.40" font-size="11.5" fill="#242424" font-weight="bold" text-anchor="start"  textLength="17.5" lengthAdjust="spacingAndGlyphs" stroke="#242424" stroke-width="0.25">ECS</text>
<text x="599.60" y="480.40" font-size="11" fill="#242424" font-weight="bold" text-anchor="start"  textLength="30.6" lengthAdjust="spacingAndGlyphs" stroke="#242424" stroke-width="0.25">服务器</text>
<rect x="490.00" y="493.70" width="98.00" height="24.30" fill="#2e1c8e" stroke="#221a4a" stroke-width="0.8"/>
<text x="539.00" y="509.60" font-size="12.5" fill="#fff" font-weight="bold" text-anchor="middle"  textLength="54" lengthAdjust="spacingAndGlyphs" stroke="#fff" stroke-width="0.3">数据中心B</text>
<rect x="711.30" y="363.00" width="329.50" height="140.30" rx="6" fill="#eef6f6" stroke="#555" stroke-width="1.3" stroke-dasharray="4.3 3"/>
<rect x="797.00" y="312.20" width="164.40" height="50.60" rx="3" fill="#f1f1f1" stroke="#555" stroke-width="1.3" stroke-dasharray="4.3 3"/>
<text x="879.00" y="323.40" font-size="9.5" fill="#444" font-weight="normal" text-anchor="middle"  textLength="45" lengthAdjust="spacingAndGlyphs">核心交换区</text>
<rect x="828.60" y="324.70" width="28.4" height="28.4" rx="3.6" fill="#0ec3f4" stroke="#0aa9dc" stroke-width="0.7"/>
<line x1="842.80" y1="338.90" x2="853.44" y2="338.90" stroke="#fff" stroke-width="1.7"/>
<polygon points="855.04,338.90 851.04,342.30 851.04,335.50" fill="#fff"/>
<line x1="842.80" y1="338.90" x2="850.33" y2="346.43" stroke="#fff" stroke-width="1.7"/>
<polygon points="851.46,347.56 845.94,347.13 851.03,342.04" fill="#fff"/>
<line x1="842.80" y1="338.90" x2="842.80" y2="349.54" stroke="#fff" stroke-width="1.7"/>
<polygon points="842.80,351.14 839.40,347.14 846.20,347.14" fill="#fff"/>
<line x1="842.80" y1="338.90" x2="835.27" y2="346.43" stroke="#fff" stroke-width="1.7"/>
<polygon points="834.14,347.56 834.57,342.04 839.66,347.13" fill="#fff"/>
<line x1="842.80" y1="338.90" x2="832.16" y2="338.90" stroke="#fff" stroke-width="1.7"/>
<polygon points="830.56,338.90 834.56,335.50 834.56,342.30" fill="#fff"/>
<line x1="842.80" y1="338.90" x2="835.27" y2="331.37" stroke="#fff" stroke-width="1.7"/>
<polygon points="834.14,330.24 839.66,330.67 834.57,335.76" fill="#fff"/>
<line x1="842.80" y1="338.90" x2="842.80" y2="328.26" stroke="#fff" stroke-width="1.7"/>
<polygon points="842.80,326.66 846.20,330.66 839.40,330.66" fill="#fff"/>
<line x1="842.80" y1="338.90" x2="850.33" y2="331.37" stroke="#fff" stroke-width="1.7"/>
<polygon points="851.46,330.24 851.03,335.76 845.94,330.67" fill="#fff"/>
<circle cx="842.80" cy="338.90" r="3.05" fill="#f5525f"/>
<rect x="900.70" y="325.20" width="28.4" height="28.4" rx="3.6" fill="#0ec3f4" stroke="#0aa9dc" stroke-width="0.7"/>
<line x1="914.90" y1="339.40" x2="925.54" y2="339.40" stroke="#fff" stroke-width="1.7"/>
<polygon points="927.14,339.40 923.14,342.80 923.14,336.00" fill="#fff"/>
<line x1="914.90" y1="339.40" x2="922.43" y2="346.93" stroke="#fff" stroke-width="1.7"/>
<polygon points="923.56,348.06 918.04,347.63 923.13,342.54" fill="#fff"/>
<line x1="914.90" y1="339.40" x2="914.90" y2="350.04" stroke="#fff" stroke-width="1.7"/>
<polygon points="914.90,351.64 911.50,347.64 918.30,347.64" fill="#fff"/>
<line x1="914.90" y1="339.40" x2="907.37" y2="346.93" stroke="#fff" stroke-width="1.7"/>
<polygon points="906.24,348.06 906.67,342.54 911.76,347.63" fill="#fff"/>
<line x1="914.90" y1="339.40" x2="904.26" y2="339.40" stroke="#fff" stroke-width="1.7"/>
<polygon points="902.66,339.40 906.66,336.00 906.66,342.80" fill="#fff"/>
<line x1="914.90" y1="339.40" x2="907.37" y2="331.87" stroke="#fff" stroke-width="1.7"/>
<polygon points="906.24,330.74 911.76,331.17 906.67,336.26" fill="#fff"/>
<line x1="914.90" y1="339.40" x2="914.90" y2="328.76" stroke="#fff" stroke-width="1.7"/>
<polygon points="914.90,327.16 918.30,331.16 911.50,331.16" fill="#fff"/>
<line x1="914.90" y1="339.40" x2="922.43" y2="331.87" stroke="#fff" stroke-width="1.7"/>
<polygon points="923.56,330.74 923.13,336.26 918.04,331.17" fill="#fff"/>
<circle cx="914.90" cy="339.40" r="3.05" fill="#f5525f"/>
<rect x="730.20" y="371.30" width="299.80" height="45.90" rx="5" fill="#7ac3f0" stroke="#26384a" stroke-width="1.1" stroke-dasharray="0.9 0.9"/>
<line x1="843.05" y1="362.80" x2="843.05" y2="379.40" stroke="#333" stroke-width="1.2"/>
<line x1="915.30" y1="362.80" x2="915.30" y2="379.40" stroke="#333" stroke-width="1.2"/>
<line x1="795.30" y1="393.20" x2="832.30" y2="393.20" stroke="#333" stroke-width="1.2"/>
<line x1="925.40" y1="393.20" x2="956.90" y2="393.20" stroke="#333" stroke-width="1.2"/>
<line x1="853.80" y1="393.20" x2="905.20" y2="393.20" stroke="#333" stroke-width="1.2" stroke-dasharray="2.5 1.8"/>
<line x1="843.05" y1="408.90" x2="816.50" y2="444.50" stroke="#333" stroke-width="1"/>
<line x1="843.05" y1="408.90" x2="954.50" y2="444.50" stroke="#333" stroke-width="1"/>
<line x1="915.30" y1="408.90" x2="816.50" y2="444.50" stroke="#333" stroke-width="1"/>
<line x1="915.30" y1="408.90" x2="954.50" y2="444.50" stroke="#333" stroke-width="1"/>
<polygon points="832.60,382.60 834.30,379.70 851.80,379.70 853.50,382.60" fill="#b8daf6"/>
<rect x="832.30" y="382.60" width="21.50" height="26.30" rx="0.8" fill="url(#swg)"/>
<rect x="834.80" y="384.00" width="16.50" height="1.1" fill="#dbeeff"/>
<rect x="834.30" y="383.70" width="3" height="1.7" fill="#fff"/>
<rect x="848.80" y="383.70" width="3" height="1.7" fill="#fff"/>
<rect x="834.80" y="388.20" width="16.50" height="1.1" fill="#dbeeff"/>
<rect x="834.30" y="387.90" width="3" height="1.7" fill="#fff"/>
<rect x="848.80" y="387.90" width="3" height="1.7" fill="#fff"/>
<rect x="832.30" y="390.90" width="21.50" height="0.6" fill="#2f78bf" opacity="0.6"/>
<line x1="843.05" y1="399.40" x2="849.65" y2="399.40" stroke="#fff" stroke-width="1.2"/>
<polygon points="850.25,399.40 847.05,401.40 847.05,397.40" fill="#fff"/>
<line x1="843.05" y1="399.40" x2="847.72" y2="404.07" stroke="#fff" stroke-width="1.2"/>
<polygon points="848.14,404.49 844.46,403.64 847.29,400.81" fill="#fff"/>
<line x1="843.05" y1="399.40" x2="843.05" y2="406.00" stroke="#fff" stroke-width="1.2"/>
<polygon points="843.05,406.60 841.05,403.40 845.05,403.40" fill="#fff"/>
<line x1="843.05" y1="399.40" x2="838.38" y2="404.07" stroke="#fff" stroke-width="1.2"/>
<polygon points="837.96,404.49 838.81,400.81 841.64,403.64" fill="#fff"/>
<line x1="843.05" y1="399.40" x2="836.45" y2="399.40" stroke="#fff" stroke-width="1.2"/>
<polygon points="835.85,399.40 839.05,397.40 839.05,401.40" fill="#fff"/>
<line x1="843.05" y1="399.40" x2="838.38" y2="394.73" stroke="#fff" stroke-width="1.2"/>
<polygon points="837.96,394.31 841.64,395.16 838.81,397.99" fill="#fff"/>
<line x1="843.05" y1="399.40" x2="843.05" y2="392.80" stroke="#fff" stroke-width="1.2"/>
<polygon points="843.05,392.20 845.05,395.40 841.05,395.40" fill="#fff"/>
<line x1="843.05" y1="399.40" x2="847.72" y2="394.73" stroke="#fff" stroke-width="1.2"/>
<polygon points="848.14,394.31 847.29,397.99 844.46,395.16" fill="#fff"/>
<circle cx="843.05" cy="399.40" r="4.6" fill="none" stroke="#fff" stroke-width="0.8" opacity="0.7"/>
<rect x="840.25" y="396.60" width="5.6" height="5.6" transform="rotate(45 843.05 399.40)" fill="#fff"/>
<polygon points="905.50,382.60 907.20,379.70 923.40,379.70 925.10,382.60" fill="#b8daf6"/>
<rect x="905.20" y="382.60" width="20.20" height="26.30" rx="0.8" fill="url(#swg)"/>
<rect x="907.70" y="384.00" width="15.20" height="1.1" fill="#dbeeff"/>
<rect x="907.20" y="383.70" width="3" height="1.7" fill="#fff"/>
<rect x="920.40" y="383.70" width="3" height="1.7" fill="#fff"/>
<rect x="907.70" y="388.20" width="15.20" height="1.1" fill="#dbeeff"/>
<rect x="907.20" y="387.90" width="3" height="1.7" fill="#fff"/>
<rect x="920.40" y="387.90" width="3" height="1.7" fill="#fff"/>
<rect x="905.20" y="390.90" width="20.20" height="0.6" fill="#2f78bf" opacity="0.6"/>
<line x1="915.30" y1="399.40" x2="921.90" y2="399.40" stroke="#fff" stroke-width="1.2"/>
<polygon points="922.50,399.40 919.30,401.40 919.30,397.40" fill="#fff"/>
<line x1="915.30" y1="399.40" x2="919.97" y2="404.07" stroke="#fff" stroke-width="1.2"/>
<polygon points="920.39,404.49 916.71,403.64 919.54,400.81" fill="#fff"/>
<line x1="915.30" y1="399.40" x2="915.30" y2="406.00" stroke="#fff" stroke-width="1.2"/>
<polygon points="915.30,406.60 913.30,403.40 917.30,403.40" fill="#fff"/>
<line x1="915.30" y1="399.40" x2="910.63" y2="404.07" stroke="#fff" stroke-width="1.2"/>
<polygon points="910.21,404.49 911.06,400.81 913.89,403.64" fill="#fff"/>
<line x1="915.30" y1="399.40" x2="908.70" y2="399.40" stroke="#fff" stroke-width="1.2"/>
<polygon points="908.10,399.40 911.30,397.40 911.30,401.40" fill="#fff"/>
<line x1="915.30" y1="399.40" x2="910.63" y2="394.73" stroke="#fff" stroke-width="1.2"/>
<polygon points="910.21,394.31 913.89,395.16 911.06,397.99" fill="#fff"/>
<line x1="915.30" y1="399.40" x2="915.30" y2="392.80" stroke="#fff" stroke-width="1.2"/>
<polygon points="915.30,392.20 917.30,395.40 913.30,395.40" fill="#fff"/>
<line x1="915.30" y1="399.40" x2="919.97" y2="394.73" stroke="#fff" stroke-width="1.2"/>
<polygon points="920.39,394.31 919.54,397.99 916.71,395.16" fill="#fff"/>
<circle cx="915.30" cy="399.40" r="4.6" fill="none" stroke="#fff" stroke-width="0.8" opacity="0.7"/>
<rect x="912.50" y="396.60" width="5.6" height="5.6" transform="rotate(45 915.30 399.40)" fill="#fff"/>
<rect x="743.40" y="380.20" width="19.10" height="18.60" fill="#f4f4f4"/>
<g transform="rotate(-27 753.15 389.80)">
<ellipse cx="753.15" cy="389.80" rx="8.3" ry="4.1" fill="none" stroke="#ee1111" stroke-width="1.9"/>
<ellipse cx="752.55" cy="389.60" rx="4.6" ry="2.1" fill="#ee1111"/>
<path d="M748.15,390.40 Q753.15,389.20 757.65,390.20" fill="none" stroke="#f4d0d0" stroke-width="0.7"/>
</g>
<rect x="762.50" y="383.80" width="32.80" height="15" rx="0.8" fill="#1c1c1c"/>
<rect x="762.50" y="387.40" width="32.80" height="3.2" fill="#4a7a8c"/>
<rect x="763.30" y="394.10" width="1" height="1.1" fill="#8fb4c8"/>
<rect x="765.10" y="394.10" width="1" height="1.1" fill="#8fb4c8"/>
<rect x="766.90" y="394.10" width="1" height="1.1" fill="#8fb4c8"/>
<rect x="768.70" y="394.10" width="1" height="1.1" fill="#8fb4c8"/>
<rect x="770.50" y="394.10" width="1" height="1.1" fill="#8fb4c8"/>
<rect x="774.31" y="393.80" width="10.82" height="1.9" fill="#a6d4f0"/>
<circle cx="791.50" cy="394.80" r="2.1" fill="#8cc6ee"/>
<text x="767.20" y="413.10" font-size="11" fill="#262626" font-weight="bold" text-anchor="middle"  textLength="61" lengthAdjust="spacingAndGlyphs">应用负载均衡</text>
<rect x="956.90" y="380.20" width="19.40" height="18.60" fill="#f4f4f4"/>
<g transform="rotate(-27 966.80 389.80)">
<ellipse cx="966.80" cy="389.80" rx="8.3" ry="4.1" fill="none" stroke="#ee1111" stroke-width="1.9"/>
<ellipse cx="966.20" cy="389.60" rx="4.6" ry="2.1" fill="#ee1111"/>
<path d="M961.80,390.40 Q966.80,389.20 971.30,390.20" fill="none" stroke="#f4d0d0" stroke-width="0.7"/>
</g>
<rect x="976.30" y="383.80" width="33.50" height="15" rx="0.8" fill="#1c1c1c"/>
<rect x="976.30" y="387.40" width="33.50" height="3.2" fill="#4a7a8c"/>
<rect x="977.10" y="394.10" width="1" height="1.1" fill="#8fb4c8"/>
<rect x="978.90" y="394.10" width="1" height="1.1" fill="#8fb4c8"/>
<rect x="980.70" y="394.10" width="1" height="1.1" fill="#8fb4c8"/>
<rect x="982.50" y="394.10" width="1" height="1.1" fill="#8fb4c8"/>
<rect x="984.30" y="394.10" width="1" height="1.1" fill="#8fb4c8"/>
<rect x="988.36" y="393.80" width="11.05" height="1.9" fill="#a6d4f0"/>
<circle cx="1006.00" cy="394.80" r="2.1" fill="#8cc6ee"/>
<text x="982.20" y="413.10" font-size="11" fill="#262626" font-weight="bold" text-anchor="middle"  textLength="61" lengthAdjust="spacingAndGlyphs">应用负载均衡</text>
<rect x="782.50" y="448.90" width="28.30" height="5.17" rx="2" fill="#f8f9f9" stroke="#858585" stroke-width="1.1"/>
<path d="M784.30,451.28 L787.20,451.28 M785.90,450.08 L787.20,451.28 L785.90,452.48" fill="none" stroke="#8a8a8a" stroke-width="0.7"/>
<line x1="801.40" y1="449.40" x2="801.40" y2="453.37" stroke="#777" stroke-width="1.0"/>
<line x1="804.80" y1="449.40" x2="804.80" y2="453.37" stroke="#999" stroke-width="0.7"/>
<line x1="807.80" y1="449.40" x2="807.80" y2="453.37" stroke="#999" stroke-width="0.7"/>
<rect x="782.50" y="454.67" width="28.30" height="5.17" rx="2" fill="#f8f9f9" stroke="#858585" stroke-width="1.1"/>
<path d="M784.30,457.05 L787.20,457.05 M785.90,455.85 L787.20,457.05 L785.90,458.25" fill="none" stroke="#8a8a8a" stroke-width="0.7"/>
<line x1="801.40" y1="455.17" x2="801.40" y2="459.13" stroke="#777" stroke-width="1.0"/>
<line x1="804.80" y1="455.17" x2="804.80" y2="459.13" stroke="#999" stroke-width="0.7"/>
<line x1="807.80" y1="455.17" x2="807.80" y2="459.13" stroke="#999" stroke-width="0.7"/>
<rect x="782.50" y="460.43" width="28.30" height="5.17" rx="2" fill="#f8f9f9" stroke="#858585" stroke-width="1.1"/>
<path d="M784.30,462.82 L787.20,462.82 M785.90,461.62 L787.20,462.82 L785.90,464.02" fill="none" stroke="#8a8a8a" stroke-width="0.7"/>
<line x1="801.40" y1="460.93" x2="801.40" y2="464.90" stroke="#777" stroke-width="1.0"/>
<line x1="804.80" y1="460.93" x2="804.80" y2="464.90" stroke="#999" stroke-width="0.7"/>
<line x1="807.80" y1="460.93" x2="807.80" y2="464.90" stroke="#999" stroke-width="0.7"/>
<rect x="818.80" y="448.90" width="28.30" height="5.17" rx="2" fill="#f8f9f9" stroke="#858585" stroke-width="1.1"/>
<path d="M820.60,451.28 L823.50,451.28 M822.20,450.08 L823.50,451.28 L822.20,452.48" fill="none" stroke="#8a8a8a" stroke-width="0.7"/>
<line x1="837.70" y1="449.40" x2="837.70" y2="453.37" stroke="#777" stroke-width="1.0"/>
<line x1="841.10" y1="449.40" x2="841.10" y2="453.37" stroke="#999" stroke-width="0.7"/>
<line x1="844.10" y1="449.40" x2="844.10" y2="453.37" stroke="#999" stroke-width="0.7"/>
<rect x="818.80" y="454.67" width="28.30" height="5.17" rx="2" fill="#f8f9f9" stroke="#858585" stroke-width="1.1"/>
<path d="M820.60,457.05 L823.50,457.05 M822.20,455.85 L823.50,457.05 L822.20,458.25" fill="none" stroke="#8a8a8a" stroke-width="0.7"/>
<line x1="837.70" y1="455.17" x2="837.70" y2="459.13" stroke="#777" stroke-width="1.0"/>
<line x1="841.10" y1="455.17" x2="841.10" y2="459.13" stroke="#999" stroke-width="0.7"/>
<line x1="844.10" y1="455.17" x2="844.10" y2="459.13" stroke="#999" stroke-width="0.7"/>
<rect x="818.80" y="460.43" width="28.30" height="5.17" rx="2" fill="#f8f9f9" stroke="#858585" stroke-width="1.1"/>
<path d="M820.60,462.82 L823.50,462.82 M822.20,461.62 L823.50,462.82 L822.20,464.02" fill="none" stroke="#8a8a8a" stroke-width="0.7"/>
<line x1="837.70" y1="460.93" x2="837.70" y2="464.90" stroke="#777" stroke-width="1.0"/>
<line x1="841.10" y1="460.93" x2="841.10" y2="464.90" stroke="#999" stroke-width="0.7"/>
<line x1="844.10" y1="460.93" x2="844.10" y2="464.90" stroke="#999" stroke-width="0.7"/>
<rect x="920.70" y="448.90" width="28.60" height="5.17" rx="2" fill="#f8f9f9" stroke="#858585" stroke-width="1.1"/>
<path d="M922.50,451.28 L925.40,451.28 M924.10,450.08 L925.40,451.28 L924.10,452.48" fill="none" stroke="#8a8a8a" stroke-width="0.7"/>
<line x1="939.90" y1="449.40" x2="939.90" y2="453.37" stroke="#777" stroke-width="1.0"/>
<line x1="943.30" y1="449.40" x2="943.30" y2="453.37" stroke="#999" stroke-width="0.7"/>
<line x1="946.30" y1="449.40" x2="946.30" y2="453.37" stroke="#999" stroke-width="0.7"/>
<rect x="920.70" y="454.67" width="28.60" height="5.17" rx="2" fill="#f8f9f9" stroke="#858585" stroke-width="1.1"/>
<path d="M922.50,457.05 L925.40,457.05 M924.10,455.85 L925.40,457.05 L924.10,458.25" fill="none" stroke="#8a8a8a" stroke-width="0.7"/>
<line x1="939.90" y1="455.17" x2="939.90" y2="459.13" stroke="#777" stroke-width="1.0"/>
<line x1="943.30" y1="455.17" x2="943.30" y2="459.13" stroke="#999" stroke-width="0.7"/>
<line x1="946.30" y1="455.17" x2="946.30" y2="459.13" stroke="#999" stroke-width="0.7"/>
<rect x="920.70" y="460.43" width="28.60" height="5.17" rx="2" fill="#f8f9f9" stroke="#858585" stroke-width="1.1"/>
<path d="M922.50,462.82 L925.40,462.82 M924.10,461.62 L925.40,462.82 L924.10,464.02" fill="none" stroke="#8a8a8a" stroke-width="0.7"/>
<line x1="939.90" y1="460.93" x2="939.90" y2="464.90" stroke="#777" stroke-width="1.0"/>
<line x1="943.30" y1="460.93" x2="943.30" y2="464.90" stroke="#999" stroke-width="0.7"/>
<line x1="946.30" y1="460.93" x2="946.30" y2="464.90" stroke="#999" stroke-width="0.7"/>
<rect x="957.50" y="448.90" width="28.90" height="5.17" rx="2" fill="#f8f9f9" stroke="#858585" stroke-width="1.1"/>
<path d="M959.30,451.28 L962.20,451.28 M960.90,450.08 L962.20,451.28 L960.90,452.48" fill="none" stroke="#8a8a8a" stroke-width="0.7"/>
<line x1="977.00" y1="449.40" x2="977.00" y2="453.37" stroke="#777" stroke-width="1.0"/>
<line x1="980.40" y1="449.40" x2="980.40" y2="453.37" stroke="#999" stroke-width="0.7"/>
<line x1="983.40" y1="449.40" x2="983.40" y2="453.37" stroke="#999" stroke-width="0.7"/>
<rect x="957.50" y="454.67" width="28.90" height="5.17" rx="2" fill="#f8f9f9" stroke="#858585" stroke-width="1.1"/>
<path d="M959.30,457.05 L962.20,457.05 M960.90,455.85 L962.20,457.05 L960.90,458.25" fill="none" stroke="#8a8a8a" stroke-width="0.7"/>
<line x1="977.00" y1="455.17" x2="977.00" y2="459.13" stroke="#777" stroke-width="1.0"/>
<line x1="980.40" y1="455.17" x2="980.40" y2="459.13" stroke="#999" stroke-width="0.7"/>
<line x1="983.40" y1="455.17" x2="983.40" y2="459.13" stroke="#999" stroke-width="0.7"/>
<rect x="957.50" y="460.43" width="28.90" height="5.17" rx="2" fill="#f8f9f9" stroke="#858585" stroke-width="1.1"/>
<path d="M959.30,462.82 L962.20,462.82 M960.90,461.62 L962.20,462.82 L960.90,464.02" fill="none" stroke="#8a8a8a" stroke-width="0.7"/>
<line x1="977.00" y1="460.93" x2="977.00" y2="464.90" stroke="#777" stroke-width="1.0"/>
<line x1="980.40" y1="460.93" x2="980.40" y2="464.90" stroke="#999" stroke-width="0.7"/>
<line x1="983.40" y1="460.93" x2="983.40" y2="464.90" stroke="#999" stroke-width="0.7"/>
<text x="792.15" y="481.70" font-size="11.5" fill="#242424" font-weight="bold" text-anchor="start"  textLength="17.5" lengthAdjust="spacingAndGlyphs" stroke="#242424" stroke-width="0.25">ECS</text>
<text x="810.00" y="481.70" font-size="11" fill="#242424" font-weight="bold" text-anchor="start"  textLength="30.6" lengthAdjust="spacingAndGlyphs" stroke="#242424" stroke-width="0.25">服务器</text>
<text x="927.55" y="481.70" font-size="11.5" fill="#242424" font-weight="bold" text-anchor="start"  textLength="17.5" lengthAdjust="spacingAndGlyphs" stroke="#242424" stroke-width="0.25">ECS</text>
<text x="945.40" y="481.70" font-size="11" fill="#242424" font-weight="bold" text-anchor="start"  textLength="30.6" lengthAdjust="spacingAndGlyphs" stroke="#242424" stroke-width="0.25">服务器</text>
<rect x="840.90" y="490.90" width="98.50" height="27.10" fill="#2e1c8e" stroke="#221a4a" stroke-width="0.8"/>
<text x="890.00" y="508.60" font-size="12.5" fill="#fff" font-weight="bold" text-anchor="middle"  textLength="54" lengthAdjust="spacingAndGlyphs" stroke="#fff" stroke-width="0.3">数据中心C</text>
</svg>
</body></html>
